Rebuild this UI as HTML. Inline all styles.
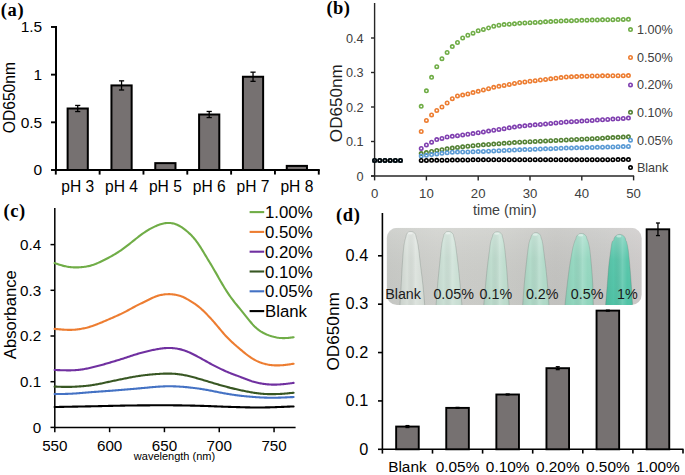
<!DOCTYPE html>
<html><head><meta charset="utf-8"><style>
html,body{margin:0;padding:0;background:#fff;}
body{width:685px;height:475px;overflow:hidden;font-family:"Liberation Sans", sans-serif;}
svg{display:block;}
</style></head><body>
<svg width="685" height="475" viewBox="0 0 685 475">
<rect width="685" height="475" fill="#fff"/>
<text x="0.8" y="15.6" font-size="18.5" text-anchor="start" fill="#000" font-family="'Liberation Serif', serif" font-weight="bold" letter-spacing="0.6">(a)</text>
<line x1="56" y1="26.08" x2="56" y2="170.9" stroke="#000" stroke-width="2" />
<line x1="51" y1="170" x2="56" y2="170" stroke="#000" stroke-width="1.9" />
<text x="42.2" y="175.3" font-size="15.5" text-anchor="end" fill="#000" font-family="'Liberation Sans', sans-serif" font-weight="normal" >0</text>
<line x1="51" y1="122.33" x2="56" y2="122.33" stroke="#000" stroke-width="1.9" />
<text x="42.2" y="127.62" font-size="15.5" text-anchor="end" fill="#000" font-family="'Liberation Sans', sans-serif" font-weight="normal" >0.5</text>
<line x1="51" y1="74.65" x2="56" y2="74.65" stroke="#000" stroke-width="1.9" />
<text x="42.2" y="79.95" font-size="15.5" text-anchor="end" fill="#000" font-family="'Liberation Sans', sans-serif" font-weight="normal" >1</text>
<line x1="51" y1="26.98" x2="56" y2="26.98" stroke="#000" stroke-width="1.9" />
<text x="42.2" y="32.28" font-size="15.5" text-anchor="end" fill="#000" font-family="'Liberation Sans', sans-serif" font-weight="normal" >1.5</text>
<line x1="56" y1="170" x2="319.78" y2="170" stroke="#000" stroke-width="2" />
<line x1="55.8" y1="170" x2="55.8" y2="174.6" stroke="#000" stroke-width="1.9" />
<line x1="99.63" y1="170" x2="99.63" y2="174.6" stroke="#000" stroke-width="1.9" />
<line x1="143.46" y1="170" x2="143.46" y2="174.6" stroke="#000" stroke-width="1.9" />
<line x1="187.29" y1="170" x2="187.29" y2="174.6" stroke="#000" stroke-width="1.9" />
<line x1="231.12" y1="170" x2="231.12" y2="174.6" stroke="#000" stroke-width="1.9" />
<line x1="274.95" y1="170" x2="274.95" y2="174.6" stroke="#000" stroke-width="1.9" />
<line x1="318.78" y1="170" x2="318.78" y2="174.6" stroke="#000" stroke-width="1.9" />
<rect x="67.62" y="108.5" width="20.2" height="61.5" fill="#767171" stroke="#000" stroke-width="2"/>
<line x1="77.72" y1="105.45" x2="77.72" y2="111.55" stroke="#000" stroke-width="1.3" />
<line x1="75.12" y1="105.45" x2="80.31" y2="105.45" stroke="#000" stroke-width="1.3" />
<line x1="75.12" y1="111.55" x2="80.31" y2="111.55" stroke="#000" stroke-width="1.3" />
<text x="77.72" y="192.4" font-size="15.6" text-anchor="middle" fill="#000" font-family="'Liberation Sans', sans-serif" font-weight="normal" >pH 3</text>
<rect x="111.45" y="85.42" width="20.2" height="84.58" fill="#767171" stroke="#000" stroke-width="2"/>
<line x1="121.55" y1="80.85" x2="121.55" y2="90" stroke="#000" stroke-width="1.3" />
<line x1="118.95" y1="80.85" x2="124.14" y2="80.85" stroke="#000" stroke-width="1.3" />
<line x1="118.95" y1="90" x2="124.14" y2="90" stroke="#000" stroke-width="1.3" />
<text x="121.55" y="192.4" font-size="15.6" text-anchor="middle" fill="#000" font-family="'Liberation Sans', sans-serif" font-weight="normal" >pH 4</text>
<rect x="155.28" y="163.13" width="20.2" height="6.87" fill="#767171" stroke="#000" stroke-width="2"/>
<text x="165.38" y="192.4" font-size="15.6" text-anchor="middle" fill="#000" font-family="'Liberation Sans', sans-serif" font-weight="normal" >pH 5</text>
<rect x="199.1" y="114.51" width="20.2" height="55.49" fill="#767171" stroke="#000" stroke-width="2"/>
<line x1="209.2" y1="111.46" x2="209.2" y2="117.56" stroke="#000" stroke-width="1.3" />
<line x1="206.6" y1="111.46" x2="211.8" y2="111.46" stroke="#000" stroke-width="1.3" />
<line x1="206.6" y1="117.56" x2="211.8" y2="117.56" stroke="#000" stroke-width="1.3" />
<text x="209.2" y="192.4" font-size="15.6" text-anchor="middle" fill="#000" font-family="'Liberation Sans', sans-serif" font-weight="normal" >pH 6</text>
<rect x="242.93" y="76.75" width="20.2" height="93.25" fill="#767171" stroke="#000" stroke-width="2"/>
<line x1="253.03" y1="72.17" x2="253.03" y2="81.32" stroke="#000" stroke-width="1.3" />
<line x1="250.43" y1="72.17" x2="255.63" y2="72.17" stroke="#000" stroke-width="1.3" />
<line x1="250.43" y1="81.32" x2="255.63" y2="81.32" stroke="#000" stroke-width="1.3" />
<text x="253.03" y="192.4" font-size="15.6" text-anchor="middle" fill="#000" font-family="'Liberation Sans', sans-serif" font-weight="normal" >pH 7</text>
<rect x="286.76" y="165.9" width="20.2" height="4.1" fill="#767171" stroke="#000" stroke-width="2"/>
<text x="296.87" y="192.4" font-size="15.6" text-anchor="middle" fill="#000" font-family="'Liberation Sans', sans-serif" font-weight="normal" >pH 8</text>
<text x="0" y="0" font-size="15.6" text-anchor="middle" fill="#000" font-family="'Liberation Sans', sans-serif" font-weight="normal" transform="translate(14.8,97.6) rotate(-90)">OD650nm</text>
<text x="326.4" y="14.4" font-size="18.5" text-anchor="start" fill="#000" font-family="'Liberation Serif', serif" font-weight="bold" letter-spacing="0.5">(b)</text>
<line x1="374.6" y1="3" x2="374.6" y2="176" stroke="#262626" stroke-width="1.4" />
<line x1="371" y1="176" x2="374.6" y2="176" stroke="#262626" stroke-width="1.4" />
<text x="363.6" y="180.5" font-size="12.7" text-anchor="end" fill="#404040" font-family="'Liberation Sans', sans-serif" font-weight="normal" >0</text>
<line x1="371" y1="141.5" x2="374.6" y2="141.5" stroke="#262626" stroke-width="1.4" />
<text x="363.6" y="146" font-size="12.7" text-anchor="end" fill="#404040" font-family="'Liberation Sans', sans-serif" font-weight="normal" >0.1</text>
<line x1="371" y1="107" x2="374.6" y2="107" stroke="#262626" stroke-width="1.4" />
<text x="363.6" y="111.5" font-size="12.7" text-anchor="end" fill="#404040" font-family="'Liberation Sans', sans-serif" font-weight="normal" >0.2</text>
<line x1="371" y1="72.5" x2="374.6" y2="72.5" stroke="#262626" stroke-width="1.4" />
<text x="363.6" y="77" font-size="12.7" text-anchor="end" fill="#404040" font-family="'Liberation Sans', sans-serif" font-weight="normal" >0.3</text>
<line x1="371" y1="38" x2="374.6" y2="38" stroke="#262626" stroke-width="1.4" />
<text x="363.6" y="42.5" font-size="12.7" text-anchor="end" fill="#404040" font-family="'Liberation Sans', sans-serif" font-weight="normal" >0.4</text>
<line x1="371" y1="176" x2="634.1" y2="176" stroke="#262626" stroke-width="1.4" />
<line x1="374.6" y1="176" x2="374.6" y2="180.4" stroke="#262626" stroke-width="1.4" />
<text x="374.6" y="198.2" font-size="13.2" text-anchor="middle" fill="#404040" font-family="'Liberation Sans', sans-serif" font-weight="normal" >0</text>
<line x1="426.4" y1="176" x2="426.4" y2="180.4" stroke="#262626" stroke-width="1.4" />
<text x="426.4" y="198.2" font-size="13.2" text-anchor="middle" fill="#404040" font-family="'Liberation Sans', sans-serif" font-weight="normal" >10</text>
<line x1="478.2" y1="176" x2="478.2" y2="180.4" stroke="#262626" stroke-width="1.4" />
<text x="478.2" y="198.2" font-size="13.2" text-anchor="middle" fill="#404040" font-family="'Liberation Sans', sans-serif" font-weight="normal" >20</text>
<line x1="530" y1="176" x2="530" y2="180.4" stroke="#262626" stroke-width="1.4" />
<text x="530" y="198.2" font-size="13.2" text-anchor="middle" fill="#404040" font-family="'Liberation Sans', sans-serif" font-weight="normal" >30</text>
<line x1="581.8" y1="176" x2="581.8" y2="180.4" stroke="#262626" stroke-width="1.4" />
<text x="581.8" y="198.2" font-size="13.2" text-anchor="middle" fill="#404040" font-family="'Liberation Sans', sans-serif" font-weight="normal" >40</text>
<line x1="633.6" y1="176" x2="633.6" y2="180.4" stroke="#262626" stroke-width="1.4" />
<text x="633.6" y="198.2" font-size="13.2" text-anchor="middle" fill="#404040" font-family="'Liberation Sans', sans-serif" font-weight="normal" >50</text>
<text x="504.8" y="214.9" font-size="14.3" text-anchor="middle" fill="#404040" font-family="'Liberation Sans', sans-serif" font-weight="normal" >time (min)</text>
<text x="0" y="0" font-size="17.1" text-anchor="middle" fill="#1e1e1e" font-family="'Liberation Sans', sans-serif" font-weight="normal" transform="translate(341.9,103.2) rotate(-90)">OD650nm</text>
<circle cx="374.6" cy="160.47" r="1.7" fill="none" stroke="#70AD47" stroke-width="1.6"/>
<circle cx="379.78" cy="160.47" r="1.7" fill="none" stroke="#70AD47" stroke-width="1.6"/>
<circle cx="384.96" cy="160.47" r="1.7" fill="none" stroke="#70AD47" stroke-width="1.6"/>
<circle cx="390.14" cy="160.47" r="1.7" fill="none" stroke="#70AD47" stroke-width="1.6"/>
<circle cx="395.32" cy="160.47" r="1.7" fill="none" stroke="#70AD47" stroke-width="1.6"/>
<circle cx="400.5" cy="160.47" r="1.7" fill="none" stroke="#70AD47" stroke-width="1.6"/>
<circle cx="421.22" cy="106.31" r="1.7" fill="none" stroke="#70AD47" stroke-width="1.6"/>
<circle cx="426.4" cy="90.78" r="1.7" fill="none" stroke="#70AD47" stroke-width="1.6"/>
<circle cx="431.58" cy="77.33" r="1.7" fill="none" stroke="#70AD47" stroke-width="1.6"/>
<circle cx="436.76" cy="66.64" r="1.7" fill="none" stroke="#70AD47" stroke-width="1.6"/>
<circle cx="441.94" cy="58.7" r="1.7" fill="none" stroke="#70AD47" stroke-width="1.6"/>
<circle cx="447.12" cy="52.49" r="1.7" fill="none" stroke="#70AD47" stroke-width="1.6"/>
<circle cx="452.3" cy="46.62" r="1.7" fill="none" stroke="#70AD47" stroke-width="1.6"/>
<circle cx="457.48" cy="42.48" r="1.7" fill="none" stroke="#70AD47" stroke-width="1.6"/>
<circle cx="462.66" cy="38" r="1.7" fill="none" stroke="#70AD47" stroke-width="1.6"/>
<circle cx="467.84" cy="35.24" r="1.7" fill="none" stroke="#70AD47" stroke-width="1.6"/>
<circle cx="473.02" cy="33.17" r="1.7" fill="none" stroke="#70AD47" stroke-width="1.6"/>
<circle cx="478.2" cy="30.75" r="1.7" fill="none" stroke="#70AD47" stroke-width="1.6"/>
<circle cx="483.38" cy="29.38" r="1.7" fill="none" stroke="#70AD47" stroke-width="1.6"/>
<circle cx="488.56" cy="28" r="1.7" fill="none" stroke="#70AD47" stroke-width="1.6"/>
<circle cx="493.74" cy="26.27" r="1.7" fill="none" stroke="#70AD47" stroke-width="1.6"/>
<circle cx="498.92" cy="25.24" r="1.7" fill="none" stroke="#70AD47" stroke-width="1.6"/>
<circle cx="504.1" cy="24.54" r="1.7" fill="none" stroke="#70AD47" stroke-width="1.6"/>
<circle cx="509.28" cy="24.2" r="1.7" fill="none" stroke="#70AD47" stroke-width="1.6"/>
<circle cx="514.46" cy="23.85" r="1.7" fill="none" stroke="#70AD47" stroke-width="1.6"/>
<circle cx="519.64" cy="23.16" r="1.7" fill="none" stroke="#70AD47" stroke-width="1.6"/>
<circle cx="524.82" cy="22.91" r="1.7" fill="none" stroke="#70AD47" stroke-width="1.6"/>
<circle cx="530" cy="22.65" r="1.7" fill="none" stroke="#70AD47" stroke-width="1.6"/>
<circle cx="535.18" cy="22.39" r="1.7" fill="none" stroke="#70AD47" stroke-width="1.6"/>
<circle cx="540.36" cy="22.13" r="1.7" fill="none" stroke="#70AD47" stroke-width="1.6"/>
<circle cx="545.54" cy="21.83" r="1.7" fill="none" stroke="#70AD47" stroke-width="1.6"/>
<circle cx="550.72" cy="21.53" r="1.7" fill="none" stroke="#70AD47" stroke-width="1.6"/>
<circle cx="555.9" cy="21.22" r="1.7" fill="none" stroke="#70AD47" stroke-width="1.6"/>
<circle cx="561.08" cy="20.92" r="1.7" fill="none" stroke="#70AD47" stroke-width="1.6"/>
<circle cx="566.26" cy="20.78" r="1.7" fill="none" stroke="#70AD47" stroke-width="1.6"/>
<circle cx="571.44" cy="20.63" r="1.7" fill="none" stroke="#70AD47" stroke-width="1.6"/>
<circle cx="576.62" cy="20.49" r="1.7" fill="none" stroke="#70AD47" stroke-width="1.6"/>
<circle cx="581.8" cy="20.35" r="1.7" fill="none" stroke="#70AD47" stroke-width="1.6"/>
<circle cx="586.98" cy="20.2" r="1.7" fill="none" stroke="#70AD47" stroke-width="1.6"/>
<circle cx="592.16" cy="20.06" r="1.7" fill="none" stroke="#70AD47" stroke-width="1.6"/>
<circle cx="597.34" cy="19.96" r="1.7" fill="none" stroke="#70AD47" stroke-width="1.6"/>
<circle cx="602.52" cy="19.86" r="1.7" fill="none" stroke="#70AD47" stroke-width="1.6"/>
<circle cx="607.7" cy="19.76" r="1.7" fill="none" stroke="#70AD47" stroke-width="1.6"/>
<circle cx="612.88" cy="19.67" r="1.7" fill="none" stroke="#70AD47" stroke-width="1.6"/>
<circle cx="618.06" cy="19.57" r="1.7" fill="none" stroke="#70AD47" stroke-width="1.6"/>
<circle cx="623.24" cy="19.47" r="1.7" fill="none" stroke="#70AD47" stroke-width="1.6"/>
<circle cx="628.42" cy="19.37" r="1.7" fill="none" stroke="#70AD47" stroke-width="1.6"/>
<circle cx="630.5" cy="29.6" r="1.7" fill="none" stroke="#70AD47" stroke-width="1.6"/>
<text x="636.9" y="34.1" font-size="12.6" text-anchor="start" fill="#404040" font-family="'Liberation Sans', sans-serif" font-weight="normal" >1.00%</text>
<circle cx="374.6" cy="160.47" r="1.7" fill="none" stroke="#ED7D31" stroke-width="1.6"/>
<circle cx="379.78" cy="160.47" r="1.7" fill="none" stroke="#ED7D31" stroke-width="1.6"/>
<circle cx="384.96" cy="160.47" r="1.7" fill="none" stroke="#ED7D31" stroke-width="1.6"/>
<circle cx="390.14" cy="160.47" r="1.7" fill="none" stroke="#ED7D31" stroke-width="1.6"/>
<circle cx="395.32" cy="160.47" r="1.7" fill="none" stroke="#ED7D31" stroke-width="1.6"/>
<circle cx="400.5" cy="160.47" r="1.7" fill="none" stroke="#ED7D31" stroke-width="1.6"/>
<circle cx="421.22" cy="131.5" r="1.7" fill="none" stroke="#ED7D31" stroke-width="1.6"/>
<circle cx="426.4" cy="120.45" r="1.7" fill="none" stroke="#ED7D31" stroke-width="1.6"/>
<circle cx="431.58" cy="114.94" r="1.7" fill="none" stroke="#ED7D31" stroke-width="1.6"/>
<circle cx="436.76" cy="110.45" r="1.7" fill="none" stroke="#ED7D31" stroke-width="1.6"/>
<circle cx="441.94" cy="107" r="1.7" fill="none" stroke="#ED7D31" stroke-width="1.6"/>
<circle cx="447.12" cy="103" r="1.7" fill="none" stroke="#ED7D31" stroke-width="1.6"/>
<circle cx="452.3" cy="98.72" r="1.7" fill="none" stroke="#ED7D31" stroke-width="1.6"/>
<circle cx="457.48" cy="95.96" r="1.7" fill="none" stroke="#ED7D31" stroke-width="1.6"/>
<circle cx="462.66" cy="95.1" r="1.7" fill="none" stroke="#ED7D31" stroke-width="1.6"/>
<circle cx="467.84" cy="93.89" r="1.7" fill="none" stroke="#ED7D31" stroke-width="1.6"/>
<circle cx="473.02" cy="92.61" r="1.7" fill="none" stroke="#ED7D31" stroke-width="1.6"/>
<circle cx="478.2" cy="91.29" r="1.7" fill="none" stroke="#ED7D31" stroke-width="1.6"/>
<circle cx="483.38" cy="89.97" r="1.7" fill="none" stroke="#ED7D31" stroke-width="1.6"/>
<circle cx="488.56" cy="88.65" r="1.7" fill="none" stroke="#ED7D31" stroke-width="1.6"/>
<circle cx="493.74" cy="87.33" r="1.7" fill="none" stroke="#ED7D31" stroke-width="1.6"/>
<circle cx="498.92" cy="86.37" r="1.7" fill="none" stroke="#ED7D31" stroke-width="1.6"/>
<circle cx="504.1" cy="85.4" r="1.7" fill="none" stroke="#ED7D31" stroke-width="1.6"/>
<circle cx="509.28" cy="84.44" r="1.7" fill="none" stroke="#ED7D31" stroke-width="1.6"/>
<circle cx="514.46" cy="83.47" r="1.7" fill="none" stroke="#ED7D31" stroke-width="1.6"/>
<circle cx="519.64" cy="82.5" r="1.7" fill="none" stroke="#ED7D31" stroke-width="1.6"/>
<circle cx="524.82" cy="81.88" r="1.7" fill="none" stroke="#ED7D31" stroke-width="1.6"/>
<circle cx="530" cy="81.26" r="1.7" fill="none" stroke="#ED7D31" stroke-width="1.6"/>
<circle cx="535.18" cy="80.64" r="1.7" fill="none" stroke="#ED7D31" stroke-width="1.6"/>
<circle cx="540.36" cy="80.02" r="1.7" fill="none" stroke="#ED7D31" stroke-width="1.6"/>
<circle cx="545.54" cy="79.4" r="1.7" fill="none" stroke="#ED7D31" stroke-width="1.6"/>
<circle cx="550.72" cy="78.8" r="1.7" fill="none" stroke="#ED7D31" stroke-width="1.6"/>
<circle cx="555.9" cy="78.19" r="1.7" fill="none" stroke="#ED7D31" stroke-width="1.6"/>
<circle cx="561.08" cy="77.59" r="1.7" fill="none" stroke="#ED7D31" stroke-width="1.6"/>
<circle cx="566.26" cy="76.99" r="1.7" fill="none" stroke="#ED7D31" stroke-width="1.6"/>
<circle cx="571.44" cy="76.78" r="1.7" fill="none" stroke="#ED7D31" stroke-width="1.6"/>
<circle cx="576.62" cy="76.57" r="1.7" fill="none" stroke="#ED7D31" stroke-width="1.6"/>
<circle cx="581.8" cy="76.36" r="1.7" fill="none" stroke="#ED7D31" stroke-width="1.6"/>
<circle cx="586.98" cy="76.16" r="1.7" fill="none" stroke="#ED7D31" stroke-width="1.6"/>
<circle cx="592.16" cy="75.95" r="1.7" fill="none" stroke="#ED7D31" stroke-width="1.6"/>
<circle cx="597.34" cy="75.9" r="1.7" fill="none" stroke="#ED7D31" stroke-width="1.6"/>
<circle cx="602.52" cy="75.85" r="1.7" fill="none" stroke="#ED7D31" stroke-width="1.6"/>
<circle cx="607.7" cy="75.8" r="1.7" fill="none" stroke="#ED7D31" stroke-width="1.6"/>
<circle cx="612.88" cy="75.75" r="1.7" fill="none" stroke="#ED7D31" stroke-width="1.6"/>
<circle cx="618.06" cy="75.7" r="1.7" fill="none" stroke="#ED7D31" stroke-width="1.6"/>
<circle cx="623.24" cy="75.65" r="1.7" fill="none" stroke="#ED7D31" stroke-width="1.6"/>
<circle cx="628.42" cy="75.61" r="1.7" fill="none" stroke="#ED7D31" stroke-width="1.6"/>
<circle cx="630.5" cy="57.5" r="1.7" fill="none" stroke="#ED7D31" stroke-width="1.6"/>
<text x="636.9" y="62" font-size="12.6" text-anchor="start" fill="#404040" font-family="'Liberation Sans', sans-serif" font-weight="normal" >0.50%</text>
<circle cx="374.6" cy="160.47" r="1.7" fill="none" stroke="#8040B0" stroke-width="1.6"/>
<circle cx="379.78" cy="160.47" r="1.7" fill="none" stroke="#8040B0" stroke-width="1.6"/>
<circle cx="384.96" cy="160.47" r="1.7" fill="none" stroke="#8040B0" stroke-width="1.6"/>
<circle cx="390.14" cy="160.47" r="1.7" fill="none" stroke="#8040B0" stroke-width="1.6"/>
<circle cx="395.32" cy="160.47" r="1.7" fill="none" stroke="#8040B0" stroke-width="1.6"/>
<circle cx="400.5" cy="160.47" r="1.7" fill="none" stroke="#8040B0" stroke-width="1.6"/>
<circle cx="421.22" cy="148.4" r="1.7" fill="none" stroke="#8040B0" stroke-width="1.6"/>
<circle cx="426.4" cy="144.95" r="1.7" fill="none" stroke="#8040B0" stroke-width="1.6"/>
<circle cx="431.58" cy="142.19" r="1.7" fill="none" stroke="#8040B0" stroke-width="1.6"/>
<circle cx="436.76" cy="139.6" r="1.7" fill="none" stroke="#8040B0" stroke-width="1.6"/>
<circle cx="441.94" cy="138.4" r="1.7" fill="none" stroke="#8040B0" stroke-width="1.6"/>
<circle cx="447.12" cy="137.01" r="1.7" fill="none" stroke="#8040B0" stroke-width="1.6"/>
<circle cx="452.3" cy="136.32" r="1.7" fill="none" stroke="#8040B0" stroke-width="1.6"/>
<circle cx="457.48" cy="135.63" r="1.7" fill="none" stroke="#8040B0" stroke-width="1.6"/>
<circle cx="462.66" cy="134.94" r="1.7" fill="none" stroke="#8040B0" stroke-width="1.6"/>
<circle cx="467.84" cy="134.25" r="1.7" fill="none" stroke="#8040B0" stroke-width="1.6"/>
<circle cx="473.02" cy="133.56" r="1.7" fill="none" stroke="#8040B0" stroke-width="1.6"/>
<circle cx="478.2" cy="132.74" r="1.7" fill="none" stroke="#8040B0" stroke-width="1.6"/>
<circle cx="483.38" cy="131.91" r="1.7" fill="none" stroke="#8040B0" stroke-width="1.6"/>
<circle cx="488.56" cy="131.08" r="1.7" fill="none" stroke="#8040B0" stroke-width="1.6"/>
<circle cx="493.74" cy="130.25" r="1.7" fill="none" stroke="#8040B0" stroke-width="1.6"/>
<circle cx="498.92" cy="129.43" r="1.7" fill="none" stroke="#8040B0" stroke-width="1.6"/>
<circle cx="504.1" cy="128.65" r="1.7" fill="none" stroke="#8040B0" stroke-width="1.6"/>
<circle cx="509.28" cy="127.87" r="1.7" fill="none" stroke="#8040B0" stroke-width="1.6"/>
<circle cx="514.46" cy="127.1" r="1.7" fill="none" stroke="#8040B0" stroke-width="1.6"/>
<circle cx="519.64" cy="126.32" r="1.7" fill="none" stroke="#8040B0" stroke-width="1.6"/>
<circle cx="524.82" cy="125.84" r="1.7" fill="none" stroke="#8040B0" stroke-width="1.6"/>
<circle cx="530" cy="125.35" r="1.7" fill="none" stroke="#8040B0" stroke-width="1.6"/>
<circle cx="535.18" cy="124.87" r="1.7" fill="none" stroke="#8040B0" stroke-width="1.6"/>
<circle cx="540.36" cy="124.39" r="1.7" fill="none" stroke="#8040B0" stroke-width="1.6"/>
<circle cx="545.54" cy="123.91" r="1.7" fill="none" stroke="#8040B0" stroke-width="1.6"/>
<circle cx="550.72" cy="123.43" r="1.7" fill="none" stroke="#8040B0" stroke-width="1.6"/>
<circle cx="555.9" cy="122.96" r="1.7" fill="none" stroke="#8040B0" stroke-width="1.6"/>
<circle cx="561.08" cy="122.48" r="1.7" fill="none" stroke="#8040B0" stroke-width="1.6"/>
<circle cx="566.26" cy="122.01" r="1.7" fill="none" stroke="#8040B0" stroke-width="1.6"/>
<circle cx="571.44" cy="121.69" r="1.7" fill="none" stroke="#8040B0" stroke-width="1.6"/>
<circle cx="576.62" cy="121.38" r="1.7" fill="none" stroke="#8040B0" stroke-width="1.6"/>
<circle cx="581.8" cy="121.06" r="1.7" fill="none" stroke="#8040B0" stroke-width="1.6"/>
<circle cx="586.98" cy="120.74" r="1.7" fill="none" stroke="#8040B0" stroke-width="1.6"/>
<circle cx="592.16" cy="120.43" r="1.7" fill="none" stroke="#8040B0" stroke-width="1.6"/>
<circle cx="597.34" cy="120.11" r="1.7" fill="none" stroke="#8040B0" stroke-width="1.6"/>
<circle cx="602.52" cy="119.77" r="1.7" fill="none" stroke="#8040B0" stroke-width="1.6"/>
<circle cx="607.7" cy="119.42" r="1.7" fill="none" stroke="#8040B0" stroke-width="1.6"/>
<circle cx="612.88" cy="119.07" r="1.7" fill="none" stroke="#8040B0" stroke-width="1.6"/>
<circle cx="618.06" cy="118.73" r="1.7" fill="none" stroke="#8040B0" stroke-width="1.6"/>
<circle cx="623.24" cy="118.38" r="1.7" fill="none" stroke="#8040B0" stroke-width="1.6"/>
<circle cx="628.42" cy="118.04" r="1.7" fill="none" stroke="#8040B0" stroke-width="1.6"/>
<circle cx="630.5" cy="84.9" r="1.7" fill="none" stroke="#8040B0" stroke-width="1.6"/>
<text x="636.9" y="89.4" font-size="12.6" text-anchor="start" fill="#404040" font-family="'Liberation Sans', sans-serif" font-weight="normal" >0.20%</text>
<circle cx="374.6" cy="160.47" r="1.7" fill="none" stroke="#548235" stroke-width="1.6"/>
<circle cx="379.78" cy="160.47" r="1.7" fill="none" stroke="#548235" stroke-width="1.6"/>
<circle cx="384.96" cy="160.47" r="1.7" fill="none" stroke="#548235" stroke-width="1.6"/>
<circle cx="390.14" cy="160.47" r="1.7" fill="none" stroke="#548235" stroke-width="1.6"/>
<circle cx="395.32" cy="160.47" r="1.7" fill="none" stroke="#548235" stroke-width="1.6"/>
<circle cx="400.5" cy="160.47" r="1.7" fill="none" stroke="#548235" stroke-width="1.6"/>
<circle cx="421.22" cy="153.57" r="1.7" fill="none" stroke="#548235" stroke-width="1.6"/>
<circle cx="426.4" cy="152.54" r="1.7" fill="none" stroke="#548235" stroke-width="1.6"/>
<circle cx="431.58" cy="151.5" r="1.7" fill="none" stroke="#548235" stroke-width="1.6"/>
<circle cx="436.76" cy="150.47" r="1.7" fill="none" stroke="#548235" stroke-width="1.6"/>
<circle cx="441.94" cy="149.66" r="1.7" fill="none" stroke="#548235" stroke-width="1.6"/>
<circle cx="447.12" cy="148.86" r="1.7" fill="none" stroke="#548235" stroke-width="1.6"/>
<circle cx="452.3" cy="148.06" r="1.7" fill="none" stroke="#548235" stroke-width="1.6"/>
<circle cx="457.48" cy="147.45" r="1.7" fill="none" stroke="#548235" stroke-width="1.6"/>
<circle cx="462.66" cy="146.85" r="1.7" fill="none" stroke="#548235" stroke-width="1.6"/>
<circle cx="467.84" cy="146.24" r="1.7" fill="none" stroke="#548235" stroke-width="1.6"/>
<circle cx="473.02" cy="145.64" r="1.7" fill="none" stroke="#548235" stroke-width="1.6"/>
<circle cx="478.2" cy="145.26" r="1.7" fill="none" stroke="#548235" stroke-width="1.6"/>
<circle cx="483.38" cy="144.87" r="1.7" fill="none" stroke="#548235" stroke-width="1.6"/>
<circle cx="488.56" cy="144.49" r="1.7" fill="none" stroke="#548235" stroke-width="1.6"/>
<circle cx="493.74" cy="144.11" r="1.7" fill="none" stroke="#548235" stroke-width="1.6"/>
<circle cx="498.92" cy="143.72" r="1.7" fill="none" stroke="#548235" stroke-width="1.6"/>
<circle cx="504.1" cy="143.34" r="1.7" fill="none" stroke="#548235" stroke-width="1.6"/>
<circle cx="509.28" cy="142.96" r="1.7" fill="none" stroke="#548235" stroke-width="1.6"/>
<circle cx="514.46" cy="142.57" r="1.7" fill="none" stroke="#548235" stroke-width="1.6"/>
<circle cx="519.64" cy="142.19" r="1.7" fill="none" stroke="#548235" stroke-width="1.6"/>
<circle cx="524.82" cy="141.94" r="1.7" fill="none" stroke="#548235" stroke-width="1.6"/>
<circle cx="530" cy="141.68" r="1.7" fill="none" stroke="#548235" stroke-width="1.6"/>
<circle cx="535.18" cy="141.43" r="1.7" fill="none" stroke="#548235" stroke-width="1.6"/>
<circle cx="540.36" cy="141.18" r="1.7" fill="none" stroke="#548235" stroke-width="1.6"/>
<circle cx="545.54" cy="140.93" r="1.7" fill="none" stroke="#548235" stroke-width="1.6"/>
<circle cx="550.72" cy="140.67" r="1.7" fill="none" stroke="#548235" stroke-width="1.6"/>
<circle cx="555.9" cy="140.42" r="1.7" fill="none" stroke="#548235" stroke-width="1.6"/>
<circle cx="561.08" cy="140.17" r="1.7" fill="none" stroke="#548235" stroke-width="1.6"/>
<circle cx="566.26" cy="139.91" r="1.7" fill="none" stroke="#548235" stroke-width="1.6"/>
<circle cx="571.44" cy="139.66" r="1.7" fill="none" stroke="#548235" stroke-width="1.6"/>
<circle cx="576.62" cy="139.41" r="1.7" fill="none" stroke="#548235" stroke-width="1.6"/>
<circle cx="581.8" cy="139.15" r="1.7" fill="none" stroke="#548235" stroke-width="1.6"/>
<circle cx="586.98" cy="138.9" r="1.7" fill="none" stroke="#548235" stroke-width="1.6"/>
<circle cx="592.16" cy="138.65" r="1.7" fill="none" stroke="#548235" stroke-width="1.6"/>
<circle cx="597.34" cy="138.4" r="1.7" fill="none" stroke="#548235" stroke-width="1.6"/>
<circle cx="602.52" cy="138.13" r="1.7" fill="none" stroke="#548235" stroke-width="1.6"/>
<circle cx="607.7" cy="137.87" r="1.7" fill="none" stroke="#548235" stroke-width="1.6"/>
<circle cx="612.88" cy="137.6" r="1.7" fill="none" stroke="#548235" stroke-width="1.6"/>
<circle cx="618.06" cy="137.34" r="1.7" fill="none" stroke="#548235" stroke-width="1.6"/>
<circle cx="623.24" cy="137.07" r="1.7" fill="none" stroke="#548235" stroke-width="1.6"/>
<circle cx="628.42" cy="136.81" r="1.7" fill="none" stroke="#548235" stroke-width="1.6"/>
<circle cx="630.5" cy="112.3" r="1.7" fill="none" stroke="#548235" stroke-width="1.6"/>
<text x="636.9" y="116.8" font-size="12.6" text-anchor="start" fill="#404040" font-family="'Liberation Sans', sans-serif" font-weight="normal" >0.10%</text>
<circle cx="374.6" cy="160.47" r="1.7" fill="none" stroke="#5B9BD5" stroke-width="1.6"/>
<circle cx="379.78" cy="160.47" r="1.7" fill="none" stroke="#5B9BD5" stroke-width="1.6"/>
<circle cx="384.96" cy="160.47" r="1.7" fill="none" stroke="#5B9BD5" stroke-width="1.6"/>
<circle cx="390.14" cy="160.47" r="1.7" fill="none" stroke="#5B9BD5" stroke-width="1.6"/>
<circle cx="395.32" cy="160.47" r="1.7" fill="none" stroke="#5B9BD5" stroke-width="1.6"/>
<circle cx="400.5" cy="160.47" r="1.7" fill="none" stroke="#5B9BD5" stroke-width="1.6"/>
<circle cx="421.22" cy="155.99" r="1.7" fill="none" stroke="#5B9BD5" stroke-width="1.6"/>
<circle cx="426.4" cy="155.3" r="1.7" fill="none" stroke="#5B9BD5" stroke-width="1.6"/>
<circle cx="431.58" cy="154.61" r="1.7" fill="none" stroke="#5B9BD5" stroke-width="1.6"/>
<circle cx="436.76" cy="153.92" r="1.7" fill="none" stroke="#5B9BD5" stroke-width="1.6"/>
<circle cx="441.94" cy="153.34" r="1.7" fill="none" stroke="#5B9BD5" stroke-width="1.6"/>
<circle cx="447.12" cy="152.77" r="1.7" fill="none" stroke="#5B9BD5" stroke-width="1.6"/>
<circle cx="452.3" cy="152.19" r="1.7" fill="none" stroke="#5B9BD5" stroke-width="1.6"/>
<circle cx="457.48" cy="152.11" r="1.7" fill="none" stroke="#5B9BD5" stroke-width="1.6"/>
<circle cx="462.66" cy="152.02" r="1.7" fill="none" stroke="#5B9BD5" stroke-width="1.6"/>
<circle cx="467.84" cy="151.94" r="1.7" fill="none" stroke="#5B9BD5" stroke-width="1.6"/>
<circle cx="473.02" cy="151.85" r="1.7" fill="none" stroke="#5B9BD5" stroke-width="1.6"/>
<circle cx="478.2" cy="151.62" r="1.7" fill="none" stroke="#5B9BD5" stroke-width="1.6"/>
<circle cx="483.38" cy="151.39" r="1.7" fill="none" stroke="#5B9BD5" stroke-width="1.6"/>
<circle cx="488.56" cy="151.16" r="1.7" fill="none" stroke="#5B9BD5" stroke-width="1.6"/>
<circle cx="493.74" cy="150.93" r="1.7" fill="none" stroke="#5B9BD5" stroke-width="1.6"/>
<circle cx="498.92" cy="150.7" r="1.7" fill="none" stroke="#5B9BD5" stroke-width="1.6"/>
<circle cx="504.1" cy="150.47" r="1.7" fill="none" stroke="#5B9BD5" stroke-width="1.6"/>
<circle cx="509.28" cy="150.24" r="1.7" fill="none" stroke="#5B9BD5" stroke-width="1.6"/>
<circle cx="514.46" cy="150.01" r="1.7" fill="none" stroke="#5B9BD5" stroke-width="1.6"/>
<circle cx="519.64" cy="149.78" r="1.7" fill="none" stroke="#5B9BD5" stroke-width="1.6"/>
<circle cx="524.82" cy="149.59" r="1.7" fill="none" stroke="#5B9BD5" stroke-width="1.6"/>
<circle cx="530" cy="149.4" r="1.7" fill="none" stroke="#5B9BD5" stroke-width="1.6"/>
<circle cx="535.18" cy="149.21" r="1.7" fill="none" stroke="#5B9BD5" stroke-width="1.6"/>
<circle cx="540.36" cy="149.01" r="1.7" fill="none" stroke="#5B9BD5" stroke-width="1.6"/>
<circle cx="545.54" cy="148.82" r="1.7" fill="none" stroke="#5B9BD5" stroke-width="1.6"/>
<circle cx="550.72" cy="148.63" r="1.7" fill="none" stroke="#5B9BD5" stroke-width="1.6"/>
<circle cx="555.9" cy="148.44" r="1.7" fill="none" stroke="#5B9BD5" stroke-width="1.6"/>
<circle cx="561.08" cy="148.25" r="1.7" fill="none" stroke="#5B9BD5" stroke-width="1.6"/>
<circle cx="566.26" cy="148.06" r="1.7" fill="none" stroke="#5B9BD5" stroke-width="1.6"/>
<circle cx="571.44" cy="147.94" r="1.7" fill="none" stroke="#5B9BD5" stroke-width="1.6"/>
<circle cx="576.62" cy="147.82" r="1.7" fill="none" stroke="#5B9BD5" stroke-width="1.6"/>
<circle cx="581.8" cy="147.71" r="1.7" fill="none" stroke="#5B9BD5" stroke-width="1.6"/>
<circle cx="586.98" cy="147.59" r="1.7" fill="none" stroke="#5B9BD5" stroke-width="1.6"/>
<circle cx="592.16" cy="147.48" r="1.7" fill="none" stroke="#5B9BD5" stroke-width="1.6"/>
<circle cx="597.34" cy="147.37" r="1.7" fill="none" stroke="#5B9BD5" stroke-width="1.6"/>
<circle cx="602.52" cy="147.2" r="1.7" fill="none" stroke="#5B9BD5" stroke-width="1.6"/>
<circle cx="607.7" cy="147.04" r="1.7" fill="none" stroke="#5B9BD5" stroke-width="1.6"/>
<circle cx="612.88" cy="146.88" r="1.7" fill="none" stroke="#5B9BD5" stroke-width="1.6"/>
<circle cx="618.06" cy="146.72" r="1.7" fill="none" stroke="#5B9BD5" stroke-width="1.6"/>
<circle cx="623.24" cy="146.56" r="1.7" fill="none" stroke="#5B9BD5" stroke-width="1.6"/>
<circle cx="628.42" cy="146.4" r="1.7" fill="none" stroke="#5B9BD5" stroke-width="1.6"/>
<circle cx="630.5" cy="140.2" r="1.7" fill="none" stroke="#5B9BD5" stroke-width="1.6"/>
<text x="636.9" y="144.7" font-size="12.6" text-anchor="start" fill="#404040" font-family="'Liberation Sans', sans-serif" font-weight="normal" >0.05%</text>
<circle cx="374.6" cy="160.47" r="1.7" fill="none" stroke="#000000" stroke-width="1.6"/>
<circle cx="379.78" cy="160.47" r="1.7" fill="none" stroke="#000000" stroke-width="1.6"/>
<circle cx="384.96" cy="160.47" r="1.7" fill="none" stroke="#000000" stroke-width="1.6"/>
<circle cx="390.14" cy="160.47" r="1.7" fill="none" stroke="#000000" stroke-width="1.6"/>
<circle cx="395.32" cy="160.47" r="1.7" fill="none" stroke="#000000" stroke-width="1.6"/>
<circle cx="400.5" cy="160.47" r="1.7" fill="none" stroke="#000000" stroke-width="1.6"/>
<circle cx="421.22" cy="160.47" r="1.7" fill="none" stroke="#000000" stroke-width="1.6"/>
<circle cx="426.4" cy="160.41" r="1.7" fill="none" stroke="#000000" stroke-width="1.6"/>
<circle cx="431.58" cy="160.35" r="1.7" fill="none" stroke="#000000" stroke-width="1.6"/>
<circle cx="436.76" cy="160.29" r="1.7" fill="none" stroke="#000000" stroke-width="1.6"/>
<circle cx="441.94" cy="160.22" r="1.7" fill="none" stroke="#000000" stroke-width="1.6"/>
<circle cx="447.12" cy="160.16" r="1.7" fill="none" stroke="#000000" stroke-width="1.6"/>
<circle cx="452.3" cy="160.1" r="1.7" fill="none" stroke="#000000" stroke-width="1.6"/>
<circle cx="457.48" cy="160.04" r="1.7" fill="none" stroke="#000000" stroke-width="1.6"/>
<circle cx="462.66" cy="159.97" r="1.7" fill="none" stroke="#000000" stroke-width="1.6"/>
<circle cx="467.84" cy="159.91" r="1.7" fill="none" stroke="#000000" stroke-width="1.6"/>
<circle cx="473.02" cy="159.85" r="1.7" fill="none" stroke="#000000" stroke-width="1.6"/>
<circle cx="478.2" cy="159.78" r="1.7" fill="none" stroke="#000000" stroke-width="1.6"/>
<circle cx="483.38" cy="159.78" r="1.7" fill="none" stroke="#000000" stroke-width="1.6"/>
<circle cx="488.56" cy="159.77" r="1.7" fill="none" stroke="#000000" stroke-width="1.6"/>
<circle cx="493.74" cy="159.77" r="1.7" fill="none" stroke="#000000" stroke-width="1.6"/>
<circle cx="498.92" cy="159.76" r="1.7" fill="none" stroke="#000000" stroke-width="1.6"/>
<circle cx="504.1" cy="159.76" r="1.7" fill="none" stroke="#000000" stroke-width="1.6"/>
<circle cx="509.28" cy="159.75" r="1.7" fill="none" stroke="#000000" stroke-width="1.6"/>
<circle cx="514.46" cy="159.74" r="1.7" fill="none" stroke="#000000" stroke-width="1.6"/>
<circle cx="519.64" cy="159.74" r="1.7" fill="none" stroke="#000000" stroke-width="1.6"/>
<circle cx="524.82" cy="159.73" r="1.7" fill="none" stroke="#000000" stroke-width="1.6"/>
<circle cx="530" cy="159.73" r="1.7" fill="none" stroke="#000000" stroke-width="1.6"/>
<circle cx="535.18" cy="159.72" r="1.7" fill="none" stroke="#000000" stroke-width="1.6"/>
<circle cx="540.36" cy="159.71" r="1.7" fill="none" stroke="#000000" stroke-width="1.6"/>
<circle cx="545.54" cy="159.71" r="1.7" fill="none" stroke="#000000" stroke-width="1.6"/>
<circle cx="550.72" cy="159.7" r="1.7" fill="none" stroke="#000000" stroke-width="1.6"/>
<circle cx="555.9" cy="159.7" r="1.7" fill="none" stroke="#000000" stroke-width="1.6"/>
<circle cx="561.08" cy="159.69" r="1.7" fill="none" stroke="#000000" stroke-width="1.6"/>
<circle cx="566.26" cy="159.68" r="1.7" fill="none" stroke="#000000" stroke-width="1.6"/>
<circle cx="571.44" cy="159.68" r="1.7" fill="none" stroke="#000000" stroke-width="1.6"/>
<circle cx="576.62" cy="159.67" r="1.7" fill="none" stroke="#000000" stroke-width="1.6"/>
<circle cx="581.8" cy="159.67" r="1.7" fill="none" stroke="#000000" stroke-width="1.6"/>
<circle cx="586.98" cy="159.66" r="1.7" fill="none" stroke="#000000" stroke-width="1.6"/>
<circle cx="592.16" cy="159.65" r="1.7" fill="none" stroke="#000000" stroke-width="1.6"/>
<circle cx="597.34" cy="159.65" r="1.7" fill="none" stroke="#000000" stroke-width="1.6"/>
<circle cx="602.52" cy="159.64" r="1.7" fill="none" stroke="#000000" stroke-width="1.6"/>
<circle cx="607.7" cy="159.64" r="1.7" fill="none" stroke="#000000" stroke-width="1.6"/>
<circle cx="612.88" cy="159.63" r="1.7" fill="none" stroke="#000000" stroke-width="1.6"/>
<circle cx="618.06" cy="159.62" r="1.7" fill="none" stroke="#000000" stroke-width="1.6"/>
<circle cx="623.24" cy="159.62" r="1.7" fill="none" stroke="#000000" stroke-width="1.6"/>
<circle cx="628.42" cy="159.61" r="1.7" fill="none" stroke="#000000" stroke-width="1.6"/>
<circle cx="630.5" cy="167.6" r="1.7" fill="none" stroke="#000000" stroke-width="1.6"/>
<text x="636.9" y="172.1" font-size="12.6" text-anchor="start" fill="#404040" font-family="'Liberation Sans', sans-serif" font-weight="normal" >Blank</text>
<text x="3.4" y="216.6" font-size="18.5" text-anchor="start" fill="#000" font-family="'Liberation Serif', serif" font-weight="bold" letter-spacing="0.6">(c)</text>
<line x1="54.8" y1="208" x2="54.8" y2="427.4" stroke="#000" stroke-width="1.5" />
<line x1="50.5" y1="427.4" x2="54.8" y2="427.4" stroke="#000" stroke-width="1.5" />
<text x="41.2" y="432.8" font-size="15.2" text-anchor="end" fill="#000" font-family="'Liberation Sans', sans-serif" font-weight="normal" >0</text>
<line x1="50.5" y1="381.7" x2="54.8" y2="381.7" stroke="#000" stroke-width="1.5" />
<text x="41.2" y="387.1" font-size="15.2" text-anchor="end" fill="#000" font-family="'Liberation Sans', sans-serif" font-weight="normal" >0.1</text>
<line x1="50.5" y1="336" x2="54.8" y2="336" stroke="#000" stroke-width="1.5" />
<text x="41.2" y="341.4" font-size="15.2" text-anchor="end" fill="#000" font-family="'Liberation Sans', sans-serif" font-weight="normal" >0.2</text>
<line x1="50.5" y1="290.3" x2="54.8" y2="290.3" stroke="#000" stroke-width="1.5" />
<text x="41.2" y="295.7" font-size="15.2" text-anchor="end" fill="#000" font-family="'Liberation Sans', sans-serif" font-weight="normal" >0.3</text>
<line x1="50.5" y1="244.6" x2="54.8" y2="244.6" stroke="#000" stroke-width="1.5" />
<text x="41.2" y="250" font-size="15.2" text-anchor="end" fill="#000" font-family="'Liberation Sans', sans-serif" font-weight="normal" >0.4</text>
<line x1="54.8" y1="427.4" x2="295.6" y2="427.4" stroke="#000" stroke-width="1.5" />
<line x1="54.8" y1="427.4" x2="54.8" y2="432.2" stroke="#000" stroke-width="1.5" />
<text x="54.8" y="451.2" font-size="15.2" text-anchor="middle" fill="#000" font-family="'Liberation Sans', sans-serif" font-weight="normal" >550</text>
<line x1="109.62" y1="427.4" x2="109.62" y2="432.2" stroke="#000" stroke-width="1.5" />
<text x="109.62" y="451.2" font-size="15.2" text-anchor="middle" fill="#000" font-family="'Liberation Sans', sans-serif" font-weight="normal" >600</text>
<line x1="164.43" y1="427.4" x2="164.43" y2="432.2" stroke="#000" stroke-width="1.5" />
<text x="164.43" y="451.2" font-size="15.2" text-anchor="middle" fill="#000" font-family="'Liberation Sans', sans-serif" font-weight="normal" >650</text>
<line x1="219.25" y1="427.4" x2="219.25" y2="432.2" stroke="#000" stroke-width="1.5" />
<text x="219.25" y="451.2" font-size="15.2" text-anchor="middle" fill="#000" font-family="'Liberation Sans', sans-serif" font-weight="normal" >700</text>
<line x1="274.06" y1="427.4" x2="274.06" y2="432.2" stroke="#000" stroke-width="1.5" />
<text x="274.06" y="451.2" font-size="15.2" text-anchor="middle" fill="#000" font-family="'Liberation Sans', sans-serif" font-weight="normal" >750</text>
<text x="174.5" y="459.6" font-size="11" text-anchor="middle" fill="#000" font-family="'Liberation Sans', sans-serif" font-weight="normal" >wavelength (nm)</text>
<text x="0" y="0" font-size="16.7" text-anchor="middle" fill="#000" font-family="'Liberation Sans', sans-serif" font-weight="normal" transform="translate(15.8,314.7) rotate(-90)">Absorbance</text>
<path d="M54.6,263.1 L55.6,263.44 L56.6,263.79 L57.6,264.12 L58.6,264.45 L59.6,264.77 L60.6,265.07 L61.6,265.35 L62.6,265.62 L63.6,265.88 L64.6,266.11 L65.6,266.32 L66.6,266.52 L67.6,266.69 L68.6,266.85 L69.6,266.98 L70.6,267.1 L71.6,267.2 L72.6,267.28 L73.6,267.34 L74.6,267.38 L75.6,267.4 L76.6,267.4 L77.6,267.38 L78.6,267.35 L79.6,267.31 L80.6,267.24 L81.6,267.16 L82.6,267.07 L83.6,266.96 L84.6,266.83 L85.6,266.68 L86.6,266.51 L87.6,266.32 L88.6,266.11 L89.6,265.88 L90.6,265.62 L91.6,265.33 L92.6,265.02 L93.6,264.69 L94.6,264.32 L95.6,263.94 L96.6,263.53 L97.6,263.1 L98.6,262.65 L99.6,262.19 L100.6,261.71 L101.6,261.23 L102.6,260.74 L103.6,260.25 L104.6,259.75 L105.6,259.25 L106.6,258.74 L107.6,258.23 L108.6,257.71 L109.6,257.18 L110.6,256.64 L111.6,256.09 L112.6,255.53 L113.6,254.95 L114.6,254.36 L115.6,253.76 L116.6,253.14 L117.6,252.51 L118.6,251.87 L119.6,251.21 L120.6,250.54 L121.6,249.85 L122.6,249.15 L123.6,248.43 L124.6,247.69 L125.6,246.94 L126.6,246.18 L127.6,245.4 L128.6,244.61 L129.6,243.82 L130.6,243.02 L131.6,242.22 L132.6,241.42 L133.6,240.62 L134.6,239.82 L135.6,239.03 L136.6,238.24 L137.6,237.46 L138.6,236.69 L139.6,235.93 L140.6,235.18 L141.6,234.44 L142.6,233.72 L143.6,233.01 L144.6,232.32 L145.6,231.65 L146.6,231 L147.6,230.38 L148.6,229.77 L149.6,229.19 L150.6,228.63 L151.6,228.09 L152.6,227.58 L153.6,227.09 L154.6,226.62 L155.6,226.16 L156.6,225.74 L157.6,225.33 L158.6,224.95 L159.6,224.6 L160.6,224.27 L161.6,223.97 L162.6,223.71 L163.6,223.48 L164.6,223.29 L165.6,223.14 L166.6,223.04 L167.6,222.97 L168.6,222.95 L169.6,222.98 L170.6,223.06 L171.6,223.19 L172.6,223.36 L173.6,223.59 L174.6,223.86 L175.6,224.19 L176.6,224.57 L177.6,225 L178.6,225.49 L179.6,226.02 L180.6,226.6 L181.6,227.22 L182.6,227.89 L183.6,228.6 L184.6,229.34 L185.6,230.12 L186.6,230.94 L187.6,231.8 L188.6,232.69 L189.6,233.62 L190.6,234.59 L191.6,235.61 L192.6,236.67 L193.6,237.79 L194.6,238.97 L195.6,240.21 L196.6,241.52 L197.6,242.9 L198.6,244.34 L199.6,245.84 L200.6,247.4 L201.6,249 L202.6,250.63 L203.6,252.28 L204.6,253.95 L205.6,255.62 L206.6,257.29 L207.6,258.95 L208.6,260.6 L209.6,262.26 L210.6,263.91 L211.6,265.58 L212.6,267.25 L213.6,268.94 L214.6,270.66 L215.6,272.39 L216.6,274.13 L217.6,275.89 L218.6,277.66 L219.6,279.42 L220.6,281.17 L221.6,282.9 L222.6,284.61 L223.6,286.29 L224.6,287.94 L225.6,289.55 L226.6,291.11 L227.6,292.64 L228.6,294.13 L229.6,295.58 L230.6,296.99 L231.6,298.36 L232.6,299.7 L233.6,301.01 L234.6,302.29 L235.6,303.55 L236.6,304.78 L237.6,306.01 L238.6,307.22 L239.6,308.43 L240.6,309.64 L241.6,310.85 L242.6,312.07 L243.6,313.3 L244.6,314.54 L245.6,315.79 L246.6,317.05 L247.6,318.32 L248.6,319.58 L249.6,320.82 L250.6,322.04 L251.6,323.22 L252.6,324.36 L253.6,325.43 L254.6,326.45 L255.6,327.4 L256.6,328.29 L257.6,329.12 L258.6,329.89 L259.6,330.61 L260.6,331.28 L261.6,331.9 L262.6,332.49 L263.6,333.03 L264.6,333.54 L265.6,334.02 L266.6,334.47 L267.6,334.88 L268.6,335.27 L269.6,335.63 L270.6,335.97 L271.6,336.29 L272.6,336.58 L273.6,336.85 L274.6,337.09 L275.6,337.31 L276.6,337.51 L277.6,337.67 L278.6,337.81 L279.6,337.92 L280.6,338.01 L281.6,338.07 L282.6,338.1 L283.6,338.11 L284.6,338.1 L285.6,338.06 L286.6,338.01 L287.6,337.93 L288.6,337.84 L289.6,337.74 L290.6,337.62 L291.6,337.49 L292.6,337.35 L293.6,337.21" fill="none" stroke="#70AD47" stroke-width="2.1" stroke-linejoin="round" stroke-linecap="round"/>
<path d="M54.6,328.9 L55.6,328.99 L56.6,329.08 L57.6,329.17 L58.6,329.26 L59.6,329.34 L60.6,329.42 L61.6,329.5 L62.6,329.58 L63.6,329.65 L64.6,329.71 L65.6,329.77 L66.6,329.81 L67.6,329.85 L68.6,329.87 L69.6,329.87 L70.6,329.87 L71.6,329.84 L72.6,329.8 L73.6,329.75 L74.6,329.68 L75.6,329.59 L76.6,329.49 L77.6,329.38 L78.6,329.25 L79.6,329.11 L80.6,328.95 L81.6,328.78 L82.6,328.59 L83.6,328.39 L84.6,328.17 L85.6,327.94 L86.6,327.7 L87.6,327.43 L88.6,327.16 L89.6,326.87 L90.6,326.56 L91.6,326.24 L92.6,325.91 L93.6,325.56 L94.6,325.2 L95.6,324.83 L96.6,324.44 L97.6,324.05 L98.6,323.65 L99.6,323.24 L100.6,322.83 L101.6,322.41 L102.6,321.99 L103.6,321.56 L104.6,321.14 L105.6,320.71 L106.6,320.28 L107.6,319.85 L108.6,319.41 L109.6,318.98 L110.6,318.54 L111.6,318.11 L112.6,317.67 L113.6,317.23 L114.6,316.8 L115.6,316.36 L116.6,315.91 L117.6,315.47 L118.6,315.02 L119.6,314.56 L120.6,314.09 L121.6,313.61 L122.6,313.13 L123.6,312.63 L124.6,312.11 L125.6,311.59 L126.6,311.06 L127.6,310.52 L128.6,309.97 L129.6,309.42 L130.6,308.87 L131.6,308.32 L132.6,307.77 L133.6,307.24 L134.6,306.71 L135.6,306.19 L136.6,305.68 L137.6,305.17 L138.6,304.67 L139.6,304.17 L140.6,303.68 L141.6,303.19 L142.6,302.69 L143.6,302.19 L144.6,301.7 L145.6,301.2 L146.6,300.7 L147.6,300.2 L148.6,299.7 L149.6,299.2 L150.6,298.72 L151.6,298.25 L152.6,297.79 L153.6,297.35 L154.6,296.94 L155.6,296.55 L156.6,296.2 L157.6,295.87 L158.6,295.58 L159.6,295.32 L160.6,295.08 L161.6,294.87 L162.6,294.69 L163.6,294.54 L164.6,294.41 L165.6,294.3 L166.6,294.23 L167.6,294.18 L168.6,294.16 L169.6,294.16 L170.6,294.2 L171.6,294.26 L172.6,294.35 L173.6,294.47 L174.6,294.62 L175.6,294.79 L176.6,294.99 L177.6,295.21 L178.6,295.46 L179.6,295.75 L180.6,296.07 L181.6,296.42 L182.6,296.82 L183.6,297.26 L184.6,297.73 L185.6,298.25 L186.6,298.8 L187.6,299.37 L188.6,299.96 L189.6,300.57 L190.6,301.19 L191.6,301.81 L192.6,302.45 L193.6,303.09 L194.6,303.74 L195.6,304.42 L196.6,305.12 L197.6,305.86 L198.6,306.64 L199.6,307.45 L200.6,308.31 L201.6,309.2 L202.6,310.13 L203.6,311.09 L204.6,312.08 L205.6,313.09 L206.6,314.11 L207.6,315.14 L208.6,316.18 L209.6,317.24 L210.6,318.31 L211.6,319.4 L212.6,320.51 L213.6,321.63 L214.6,322.78 L215.6,323.95 L216.6,325.13 L217.6,326.32 L218.6,327.52 L219.6,328.73 L220.6,329.93 L221.6,331.11 L222.6,332.29 L223.6,333.45 L224.6,334.58 L225.6,335.68 L226.6,336.76 L227.6,337.81 L228.6,338.83 L229.6,339.82 L230.6,340.78 L231.6,341.72 L232.6,342.64 L233.6,343.54 L234.6,344.43 L235.6,345.3 L236.6,346.17 L237.6,347.03 L238.6,347.89 L239.6,348.74 L240.6,349.58 L241.6,350.42 L242.6,351.26 L243.6,352.08 L244.6,352.9 L245.6,353.7 L246.6,354.49 L247.6,355.26 L248.6,356 L249.6,356.71 L250.6,357.4 L251.6,358.06 L252.6,358.69 L253.6,359.29 L254.6,359.85 L255.6,360.39 L256.6,360.89 L257.6,361.36 L258.6,361.81 L259.6,362.22 L260.6,362.61 L261.6,362.96 L262.6,363.29 L263.6,363.59 L264.6,363.86 L265.6,364.11 L266.6,364.33 L267.6,364.53 L268.6,364.7 L269.6,364.86 L270.6,364.99 L271.6,365.1 L272.6,365.2 L273.6,365.27 L274.6,365.33 L275.6,365.37 L276.6,365.4 L277.6,365.4 L278.6,365.39 L279.6,365.36 L280.6,365.32 L281.6,365.26 L282.6,365.19 L283.6,365.1 L284.6,365 L285.6,364.89 L286.6,364.76 L287.6,364.63 L288.6,364.49 L289.6,364.34 L290.6,364.19 L291.6,364.03 L292.6,363.87 L293.6,363.71" fill="none" stroke="#ED7D31" stroke-width="2.1" stroke-linejoin="round" stroke-linecap="round"/>
<path d="M54.6,370 L55.6,370.03 L56.6,370.07 L57.6,370.1 L58.6,370.13 L59.6,370.16 L60.6,370.19 L61.6,370.22 L62.6,370.25 L63.6,370.27 L64.6,370.3 L65.6,370.32 L66.6,370.33 L67.6,370.34 L68.6,370.35 L69.6,370.34 L70.6,370.33 L71.6,370.31 L72.6,370.28 L73.6,370.24 L74.6,370.19 L75.6,370.13 L76.6,370.06 L77.6,369.97 L78.6,369.87 L79.6,369.76 L80.6,369.64 L81.6,369.5 L82.6,369.36 L83.6,369.2 L84.6,369.03 L85.6,368.84 L86.6,368.65 L87.6,368.45 L88.6,368.24 L89.6,368.03 L90.6,367.8 L91.6,367.57 L92.6,367.33 L93.6,367.09 L94.6,366.84 L95.6,366.58 L96.6,366.32 L97.6,366.06 L98.6,365.79 L99.6,365.52 L100.6,365.24 L101.6,364.97 L102.6,364.68 L103.6,364.4 L104.6,364.12 L105.6,363.83 L106.6,363.54 L107.6,363.25 L108.6,362.96 L109.6,362.66 L110.6,362.37 L111.6,362.07 L112.6,361.78 L113.6,361.48 L114.6,361.18 L115.6,360.88 L116.6,360.58 L117.6,360.27 L118.6,359.97 L119.6,359.66 L120.6,359.35 L121.6,359.03 L122.6,358.71 L123.6,358.39 L124.6,358.06 L125.6,357.73 L126.6,357.4 L127.6,357.06 L128.6,356.72 L129.6,356.39 L130.6,356.05 L131.6,355.72 L132.6,355.39 L133.6,355.07 L134.6,354.76 L135.6,354.46 L136.6,354.16 L137.6,353.87 L138.6,353.59 L139.6,353.32 L140.6,353.05 L141.6,352.78 L142.6,352.52 L143.6,352.26 L144.6,352 L145.6,351.74 L146.6,351.49 L147.6,351.24 L148.6,351 L149.6,350.76 L150.6,350.53 L151.6,350.31 L152.6,350.09 L153.6,349.88 L154.6,349.68 L155.6,349.48 L156.6,349.3 L157.6,349.12 L158.6,348.95 L159.6,348.79 L160.6,348.64 L161.6,348.5 L162.6,348.37 L163.6,348.26 L164.6,348.17 L165.6,348.09 L166.6,348.03 L167.6,347.99 L168.6,347.97 L169.6,347.97 L170.6,348 L171.6,348.04 L172.6,348.1 L173.6,348.19 L174.6,348.29 L175.6,348.42 L176.6,348.57 L177.6,348.74 L178.6,348.93 L179.6,349.14 L180.6,349.37 L181.6,349.63 L182.6,349.91 L183.6,350.22 L184.6,350.55 L185.6,350.9 L186.6,351.28 L187.6,351.68 L188.6,352.11 L189.6,352.55 L190.6,353.01 L191.6,353.49 L192.6,353.98 L193.6,354.49 L194.6,355 L195.6,355.52 L196.6,356.05 L197.6,356.58 L198.6,357.11 L199.6,357.66 L200.6,358.2 L201.6,358.75 L202.6,359.3 L203.6,359.86 L204.6,360.42 L205.6,360.98 L206.6,361.54 L207.6,362.11 L208.6,362.66 L209.6,363.22 L210.6,363.77 L211.6,364.31 L212.6,364.85 L213.6,365.38 L214.6,365.9 L215.6,366.41 L216.6,366.92 L217.6,367.42 L218.6,367.91 L219.6,368.39 L220.6,368.87 L221.6,369.35 L222.6,369.81 L223.6,370.27 L224.6,370.73 L225.6,371.17 L226.6,371.61 L227.6,372.04 L228.6,372.46 L229.6,372.86 L230.6,373.26 L231.6,373.66 L232.6,374.04 L233.6,374.41 L234.6,374.79 L235.6,375.15 L236.6,375.52 L237.6,375.89 L238.6,376.26 L239.6,376.63 L240.6,377.01 L241.6,377.4 L242.6,377.78 L243.6,378.17 L244.6,378.57 L245.6,378.96 L246.6,379.34 L247.6,379.72 L248.6,380.09 L249.6,380.45 L250.6,380.79 L251.6,381.13 L252.6,381.44 L253.6,381.74 L254.6,382.02 L255.6,382.29 L256.6,382.54 L257.6,382.78 L258.6,383 L259.6,383.21 L260.6,383.4 L261.6,383.58 L262.6,383.74 L263.6,383.89 L264.6,384.03 L265.6,384.15 L266.6,384.25 L267.6,384.34 L268.6,384.42 L269.6,384.49 L270.6,384.54 L271.6,384.58 L272.6,384.61 L273.6,384.62 L274.6,384.63 L275.6,384.61 L276.6,384.59 L277.6,384.56 L278.6,384.52 L279.6,384.46 L280.6,384.39 L281.6,384.32 L282.6,384.24 L283.6,384.14 L284.6,384.04 L285.6,383.93 L286.6,383.82 L287.6,383.7 L288.6,383.57 L289.6,383.44 L290.6,383.31 L291.6,383.17 L292.6,383.03 L293.6,382.89" fill="none" stroke="#7030A0" stroke-width="2.1" stroke-linejoin="round" stroke-linecap="round"/>
<path d="M54.6,386.6 L55.6,386.64 L56.6,386.67 L57.6,386.71 L58.6,386.74 L59.6,386.77 L60.6,386.8 L61.6,386.83 L62.6,386.86 L63.6,386.88 L64.6,386.89 L65.6,386.9 L66.6,386.91 L67.6,386.9 L68.6,386.89 L69.6,386.88 L70.6,386.86 L71.6,386.83 L72.6,386.8 L73.6,386.76 L74.6,386.71 L75.6,386.66 L76.6,386.61 L77.6,386.55 L78.6,386.49 L79.6,386.42 L80.6,386.35 L81.6,386.27 L82.6,386.19 L83.6,386.11 L84.6,386.02 L85.6,385.92 L86.6,385.82 L87.6,385.71 L88.6,385.59 L89.6,385.47 L90.6,385.34 L91.6,385.2 L92.6,385.06 L93.6,384.9 L94.6,384.74 L95.6,384.57 L96.6,384.39 L97.6,384.21 L98.6,384.02 L99.6,383.82 L100.6,383.61 L101.6,383.41 L102.6,383.2 L103.6,382.98 L104.6,382.77 L105.6,382.55 L106.6,382.33 L107.6,382.11 L108.6,381.89 L109.6,381.68 L110.6,381.46 L111.6,381.25 L112.6,381.04 L113.6,380.83 L114.6,380.62 L115.6,380.41 L116.6,380.2 L117.6,380 L118.6,379.79 L119.6,379.58 L120.6,379.38 L121.6,379.17 L122.6,378.96 L123.6,378.76 L124.6,378.56 L125.6,378.36 L126.6,378.16 L127.6,377.96 L128.6,377.76 L129.6,377.57 L130.6,377.38 L131.6,377.2 L132.6,377.02 L133.6,376.84 L134.6,376.67 L135.6,376.5 L136.6,376.33 L137.6,376.17 L138.6,376.02 L139.6,375.87 L140.6,375.72 L141.6,375.58 L142.6,375.45 L143.6,375.32 L144.6,375.2 L145.6,375.08 L146.6,374.97 L147.6,374.87 L148.6,374.76 L149.6,374.66 L150.6,374.57 L151.6,374.48 L152.6,374.39 L153.6,374.31 L154.6,374.23 L155.6,374.15 L156.6,374.07 L157.6,374 L158.6,373.94 L159.6,373.87 L160.6,373.81 L161.6,373.76 L162.6,373.71 L163.6,373.67 L164.6,373.64 L165.6,373.61 L166.6,373.59 L167.6,373.58 L168.6,373.58 L169.6,373.59 L170.6,373.61 L171.6,373.64 L172.6,373.69 L173.6,373.74 L174.6,373.81 L175.6,373.89 L176.6,373.99 L177.6,374.09 L178.6,374.21 L179.6,374.34 L180.6,374.48 L181.6,374.64 L182.6,374.8 L183.6,374.98 L184.6,375.17 L185.6,375.37 L186.6,375.58 L187.6,375.8 L188.6,376.03 L189.6,376.27 L190.6,376.51 L191.6,376.77 L192.6,377.03 L193.6,377.3 L194.6,377.58 L195.6,377.85 L196.6,378.13 L197.6,378.41 L198.6,378.7 L199.6,378.99 L200.6,379.28 L201.6,379.57 L202.6,379.86 L203.6,380.16 L204.6,380.46 L205.6,380.76 L206.6,381.06 L207.6,381.36 L208.6,381.66 L209.6,381.96 L210.6,382.26 L211.6,382.56 L212.6,382.86 L213.6,383.16 L214.6,383.45 L215.6,383.75 L216.6,384.04 L217.6,384.33 L218.6,384.62 L219.6,384.91 L220.6,385.19 L221.6,385.48 L222.6,385.76 L223.6,386.04 L224.6,386.32 L225.6,386.59 L226.6,386.86 L227.6,387.13 L228.6,387.39 L229.6,387.64 L230.6,387.9 L231.6,388.14 L232.6,388.39 L233.6,388.63 L234.6,388.86 L235.6,389.09 L236.6,389.32 L237.6,389.55 L238.6,389.77 L239.6,389.99 L240.6,390.2 L241.6,390.42 L242.6,390.63 L243.6,390.84 L244.6,391.04 L245.6,391.24 L246.6,391.44 L247.6,391.63 L248.6,391.82 L249.6,392 L250.6,392.18 L251.6,392.35 L252.6,392.52 L253.6,392.68 L254.6,392.84 L255.6,392.99 L256.6,393.13 L257.6,393.26 L258.6,393.39 L259.6,393.51 L260.6,393.61 L261.6,393.71 L262.6,393.8 L263.6,393.87 L264.6,393.94 L265.6,393.99 L266.6,394.04 L267.6,394.08 L268.6,394.11 L269.6,394.13 L270.6,394.14 L271.6,394.15 L272.6,394.14 L273.6,394.14 L274.6,394.12 L275.6,394.1 L276.6,394.07 L277.6,394.03 L278.6,393.99 L279.6,393.94 L280.6,393.89 L281.6,393.83 L282.6,393.76 L283.6,393.69 L284.6,393.61 L285.6,393.53 L286.6,393.44 L287.6,393.35 L288.6,393.26 L289.6,393.17 L290.6,393.07 L291.6,392.97 L292.6,392.87 L293.6,392.77" fill="none" stroke="#385723" stroke-width="2.1" stroke-linejoin="round" stroke-linecap="round"/>
<path d="M54.6,394.1 L55.6,394.09 L56.6,394.07 L57.6,394.06 L58.6,394.05 L59.6,394.03 L60.6,394.02 L61.6,394 L62.6,393.98 L63.6,393.96 L64.6,393.94 L65.6,393.91 L66.6,393.89 L67.6,393.85 L68.6,393.82 L69.6,393.78 L70.6,393.73 L71.6,393.68 L72.6,393.63 L73.6,393.57 L74.6,393.51 L75.6,393.44 L76.6,393.37 L77.6,393.3 L78.6,393.22 L79.6,393.15 L80.6,393.06 L81.6,392.98 L82.6,392.9 L83.6,392.81 L84.6,392.73 L85.6,392.64 L86.6,392.56 L87.6,392.47 L88.6,392.39 L89.6,392.3 L90.6,392.22 L91.6,392.14 L92.6,392.06 L93.6,391.98 L94.6,391.91 L95.6,391.83 L96.6,391.76 L97.6,391.68 L98.6,391.61 L99.6,391.54 L100.6,391.47 L101.6,391.4 L102.6,391.33 L103.6,391.26 L104.6,391.19 L105.6,391.11 L106.6,391.04 L107.6,390.97 L108.6,390.9 L109.6,390.83 L110.6,390.76 L111.6,390.69 L112.6,390.61 L113.6,390.54 L114.6,390.46 L115.6,390.38 L116.6,390.31 L117.6,390.23 L118.6,390.15 L119.6,390.07 L120.6,389.99 L121.6,389.91 L122.6,389.82 L123.6,389.74 L124.6,389.66 L125.6,389.57 L126.6,389.48 L127.6,389.4 L128.6,389.31 L129.6,389.22 L130.6,389.13 L131.6,389.04 L132.6,388.95 L133.6,388.86 L134.6,388.77 L135.6,388.68 L136.6,388.59 L137.6,388.5 L138.6,388.41 L139.6,388.33 L140.6,388.24 L141.6,388.15 L142.6,388.06 L143.6,387.97 L144.6,387.88 L145.6,387.79 L146.6,387.69 L147.6,387.6 L148.6,387.51 L149.6,387.41 L150.6,387.32 L151.6,387.23 L152.6,387.14 L153.6,387.06 L154.6,386.97 L155.6,386.89 L156.6,386.81 L157.6,386.74 L158.6,386.67 L159.6,386.6 L160.6,386.54 L161.6,386.48 L162.6,386.43 L163.6,386.39 L164.6,386.35 L165.6,386.32 L166.6,386.29 L167.6,386.28 L168.6,386.27 L169.6,386.26 L170.6,386.27 L171.6,386.28 L172.6,386.3 L173.6,386.33 L174.6,386.36 L175.6,386.4 L176.6,386.44 L177.6,386.49 L178.6,386.55 L179.6,386.61 L180.6,386.68 L181.6,386.75 L182.6,386.82 L183.6,386.91 L184.6,386.99 L185.6,387.08 L186.6,387.17 L187.6,387.27 L188.6,387.37 L189.6,387.48 L190.6,387.59 L191.6,387.7 L192.6,387.82 L193.6,387.93 L194.6,388.06 L195.6,388.18 L196.6,388.31 L197.6,388.45 L198.6,388.58 L199.6,388.73 L200.6,388.87 L201.6,389.03 L202.6,389.19 L203.6,389.35 L204.6,389.52 L205.6,389.69 L206.6,389.87 L207.6,390.05 L208.6,390.24 L209.6,390.43 L210.6,390.63 L211.6,390.82 L212.6,391.02 L213.6,391.22 L214.6,391.42 L215.6,391.63 L216.6,391.83 L217.6,392.03 L218.6,392.23 L219.6,392.43 L220.6,392.63 L221.6,392.82 L222.6,393.01 L223.6,393.2 L224.6,393.39 L225.6,393.56 L226.6,393.74 L227.6,393.91 L228.6,394.07 L229.6,394.24 L230.6,394.39 L231.6,394.54 L232.6,394.69 L233.6,394.83 L234.6,394.97 L235.6,395.11 L236.6,395.24 L237.6,395.37 L238.6,395.5 L239.6,395.62 L240.6,395.73 L241.6,395.85 L242.6,395.96 L243.6,396.07 L244.6,396.17 L245.6,396.27 L246.6,396.37 L247.6,396.47 L248.6,396.56 L249.6,396.65 L250.6,396.74 L251.6,396.82 L252.6,396.9 L253.6,396.98 L254.6,397.05 L255.6,397.13 L256.6,397.19 L257.6,397.26 L258.6,397.32 L259.6,397.38 L260.6,397.43 L261.6,397.48 L262.6,397.53 L263.6,397.57 L264.6,397.61 L265.6,397.64 L266.6,397.67 L267.6,397.7 L268.6,397.72 L269.6,397.74 L270.6,397.75 L271.6,397.75 L272.6,397.76 L273.6,397.75 L274.6,397.75 L275.6,397.73 L276.6,397.71 L277.6,397.69 L278.6,397.67 L279.6,397.64 L280.6,397.6 L281.6,397.57 L282.6,397.53 L283.6,397.49 L284.6,397.45 L285.6,397.41 L286.6,397.36 L287.6,397.31 L288.6,397.27 L289.6,397.22 L290.6,397.17 L291.6,397.12 L292.6,397.08 L293.6,397.03" fill="none" stroke="#4472C4" stroke-width="2.1" stroke-linejoin="round" stroke-linecap="round"/>
<path d="M54.6,407 L55.6,406.98 L56.6,406.96 L57.6,406.94 L58.6,406.93 L59.6,406.91 L60.6,406.89 L61.6,406.87 L62.6,406.85 L63.6,406.83 L64.6,406.82 L65.6,406.8 L66.6,406.78 L67.6,406.76 L68.6,406.74 L69.6,406.72 L70.6,406.71 L71.6,406.69 L72.6,406.67 L73.6,406.65 L74.6,406.63 L75.6,406.61 L76.6,406.59 L77.6,406.58 L78.6,406.56 L79.6,406.54 L80.6,406.52 L81.6,406.5 L82.6,406.48 L83.6,406.46 L84.6,406.44 L85.6,406.42 L86.6,406.4 L87.6,406.39 L88.6,406.37 L89.6,406.35 L90.6,406.33 L91.6,406.31 L92.6,406.29 L93.6,406.26 L94.6,406.24 L95.6,406.22 L96.6,406.2 L97.6,406.18 L98.6,406.16 L99.6,406.13 L100.6,406.11 L101.6,406.09 L102.6,406.06 L103.6,406.04 L104.6,406.02 L105.6,405.99 L106.6,405.97 L107.6,405.95 L108.6,405.92 L109.6,405.9 L110.6,405.88 L111.6,405.85 L112.6,405.83 L113.6,405.81 L114.6,405.79 L115.6,405.76 L116.6,405.74 L117.6,405.72 L118.6,405.7 L119.6,405.68 L120.6,405.66 L121.6,405.64 L122.6,405.62 L123.6,405.6 L124.6,405.59 L125.6,405.57 L126.6,405.55 L127.6,405.54 L128.6,405.52 L129.6,405.51 L130.6,405.5 L131.6,405.48 L132.6,405.47 L133.6,405.46 L134.6,405.45 L135.6,405.44 L136.6,405.43 L137.6,405.42 L138.6,405.41 L139.6,405.4 L140.6,405.39 L141.6,405.38 L142.6,405.37 L143.6,405.36 L144.6,405.36 L145.6,405.35 L146.6,405.34 L147.6,405.34 L148.6,405.33 L149.6,405.33 L150.6,405.32 L151.6,405.32 L152.6,405.31 L153.6,405.31 L154.6,405.3 L155.6,405.3 L156.6,405.3 L157.6,405.29 L158.6,405.29 L159.6,405.29 L160.6,405.29 L161.6,405.29 L162.6,405.29 L163.6,405.29 L164.6,405.29 L165.6,405.29 L166.6,405.3 L167.6,405.3 L168.6,405.3 L169.6,405.31 L170.6,405.31 L171.6,405.32 L172.6,405.32 L173.6,405.33 L174.6,405.34 L175.6,405.35 L176.6,405.36 L177.6,405.37 L178.6,405.38 L179.6,405.39 L180.6,405.4 L181.6,405.42 L182.6,405.43 L183.6,405.45 L184.6,405.46 L185.6,405.48 L186.6,405.5 L187.6,405.52 L188.6,405.54 L189.6,405.56 L190.6,405.58 L191.6,405.6 L192.6,405.62 L193.6,405.64 L194.6,405.67 L195.6,405.69 L196.6,405.72 L197.6,405.74 L198.6,405.77 L199.6,405.8 L200.6,405.83 L201.6,405.86 L202.6,405.89 L203.6,405.92 L204.6,405.95 L205.6,405.98 L206.6,406.02 L207.6,406.06 L208.6,406.09 L209.6,406.13 L210.6,406.17 L211.6,406.21 L212.6,406.25 L213.6,406.29 L214.6,406.33 L215.6,406.37 L216.6,406.41 L217.6,406.45 L218.6,406.49 L219.6,406.53 L220.6,406.57 L221.6,406.61 L222.6,406.65 L223.6,406.68 L224.6,406.72 L225.6,406.75 L226.6,406.79 L227.6,406.82 L228.6,406.85 L229.6,406.88 L230.6,406.91 L231.6,406.94 L232.6,406.97 L233.6,407 L234.6,407.03 L235.6,407.06 L236.6,407.09 L237.6,407.12 L238.6,407.15 L239.6,407.17 L240.6,407.2 L241.6,407.23 L242.6,407.25 L243.6,407.28 L244.6,407.3 L245.6,407.33 L246.6,407.35 L247.6,407.37 L248.6,407.39 L249.6,407.41 L250.6,407.43 L251.6,407.44 L252.6,407.45 L253.6,407.47 L254.6,407.47 L255.6,407.48 L256.6,407.49 L257.6,407.49 L258.6,407.49 L259.6,407.49 L260.6,407.48 L261.6,407.48 L262.6,407.47 L263.6,407.45 L264.6,407.44 L265.6,407.42 L266.6,407.4 L267.6,407.38 L268.6,407.36 L269.6,407.33 L270.6,407.3 L271.6,407.27 L272.6,407.24 L273.6,407.21 L274.6,407.18 L275.6,407.14 L276.6,407.11 L277.6,407.07 L278.6,407.03 L279.6,406.99 L280.6,406.96 L281.6,406.92 L282.6,406.88 L283.6,406.84 L284.6,406.8 L285.6,406.75 L286.6,406.71 L287.6,406.67 L288.6,406.63 L289.6,406.59 L290.6,406.55 L291.6,406.51 L292.6,406.47 L293.6,406.43" fill="none" stroke="#000000" stroke-width="2.1" stroke-linejoin="round" stroke-linecap="round"/>
<line x1="249.6" y1="212.1" x2="264.2" y2="212.1" stroke="#70AD47" stroke-width="2.1" />
<text x="265" y="218.1" font-size="16.8" text-anchor="start" fill="#000" font-family="'Liberation Sans', sans-serif" font-weight="normal" >1.00%</text>
<line x1="249.6" y1="231.9" x2="264.2" y2="231.9" stroke="#ED7D31" stroke-width="2.1" />
<text x="265" y="237.9" font-size="16.8" text-anchor="start" fill="#000" font-family="'Liberation Sans', sans-serif" font-weight="normal" >0.50%</text>
<line x1="249.6" y1="251.7" x2="264.2" y2="251.7" stroke="#7030A0" stroke-width="2.1" />
<text x="265" y="257.7" font-size="16.8" text-anchor="start" fill="#000" font-family="'Liberation Sans', sans-serif" font-weight="normal" >0.20%</text>
<line x1="249.6" y1="271.5" x2="264.2" y2="271.5" stroke="#385723" stroke-width="2.1" />
<text x="265" y="277.5" font-size="16.8" text-anchor="start" fill="#000" font-family="'Liberation Sans', sans-serif" font-weight="normal" >0.10%</text>
<line x1="249.6" y1="291.3" x2="264.2" y2="291.3" stroke="#4472C4" stroke-width="2.1" />
<text x="265" y="297.3" font-size="16.8" text-anchor="start" fill="#000" font-family="'Liberation Sans', sans-serif" font-weight="normal" >0.05%</text>
<line x1="249.6" y1="311.1" x2="264.2" y2="311.1" stroke="#000000" stroke-width="2.1" />
<text x="265" y="317.1" font-size="16.8" text-anchor="start" fill="#000" font-family="'Liberation Sans', sans-serif" font-weight="normal" >Blank</text>
<text x="335.9" y="220.8" font-size="18.5" text-anchor="start" fill="#000" font-family="'Liberation Serif', serif" font-weight="bold" letter-spacing="0.7">(d)</text>
<line x1="382.4" y1="213" x2="382.4" y2="449.3" stroke="#000" stroke-width="1.6" />
<line x1="378" y1="449.3" x2="382.4" y2="449.3" stroke="#000" stroke-width="1.6" />
<text x="368.2" y="454.5" font-size="16.3" text-anchor="end" fill="#000" font-family="'Liberation Sans', sans-serif" font-weight="normal" >0</text>
<line x1="378" y1="400.93" x2="382.4" y2="400.93" stroke="#000" stroke-width="1.6" />
<text x="368.2" y="406.12" font-size="16.3" text-anchor="end" fill="#000" font-family="'Liberation Sans', sans-serif" font-weight="normal" >0.1</text>
<line x1="378" y1="352.55" x2="382.4" y2="352.55" stroke="#000" stroke-width="1.6" />
<text x="368.2" y="357.75" font-size="16.3" text-anchor="end" fill="#000" font-family="'Liberation Sans', sans-serif" font-weight="normal" >0.2</text>
<line x1="378" y1="304.18" x2="382.4" y2="304.18" stroke="#000" stroke-width="1.6" />
<text x="368.2" y="309.38" font-size="16.3" text-anchor="end" fill="#000" font-family="'Liberation Sans', sans-serif" font-weight="normal" >0.3</text>
<line x1="378" y1="255.8" x2="382.4" y2="255.8" stroke="#000" stroke-width="1.6" />
<text x="368.2" y="261" font-size="16.3" text-anchor="end" fill="#000" font-family="'Liberation Sans', sans-serif" font-weight="normal" >0.4</text>
<line x1="382.4" y1="449.3" x2="683.5" y2="449.3" stroke="#000" stroke-width="1.6" />
<line x1="382.4" y1="449.3" x2="382.4" y2="453.6" stroke="#000" stroke-width="1.6" />
<line x1="432.5" y1="449.3" x2="432.5" y2="453.6" stroke="#000" stroke-width="1.6" />
<line x1="482.6" y1="449.3" x2="482.6" y2="453.6" stroke="#000" stroke-width="1.6" />
<line x1="532.7" y1="449.3" x2="532.7" y2="453.6" stroke="#000" stroke-width="1.6" />
<line x1="582.8" y1="449.3" x2="582.8" y2="453.6" stroke="#000" stroke-width="1.6" />
<line x1="632.9" y1="449.3" x2="632.9" y2="453.6" stroke="#000" stroke-width="1.6" />
<line x1="683" y1="449.3" x2="683" y2="453.6" stroke="#000" stroke-width="1.6" />
<rect x="396.15" y="426.56" width="22.6" height="22.74" fill="#767171" stroke="#000" stroke-width="1.9"/>
<line x1="407.45" y1="425.6" x2="407.45" y2="427.53" stroke="#000" stroke-width="1.3" />
<line x1="405.45" y1="425.6" x2="409.45" y2="425.6" stroke="#000" stroke-width="1.3" />
<line x1="405.45" y1="427.53" x2="409.45" y2="427.53" stroke="#000" stroke-width="1.3" />
<text x="407.45" y="472.4" font-size="15.4" text-anchor="middle" fill="#000" font-family="'Liberation Sans', sans-serif" font-weight="normal" >Blank</text>
<rect x="446.25" y="407.89" width="22.6" height="41.41" fill="#767171" stroke="#000" stroke-width="1.9"/>
<line x1="457.55" y1="407.41" x2="457.55" y2="408.37" stroke="#000" stroke-width="1.3" />
<line x1="455.55" y1="407.41" x2="459.55" y2="407.41" stroke="#000" stroke-width="1.3" />
<line x1="455.55" y1="408.37" x2="459.55" y2="408.37" stroke="#000" stroke-width="1.3" />
<text x="457.55" y="472.4" font-size="15.4" text-anchor="middle" fill="#000" font-family="'Liberation Sans', sans-serif" font-weight="normal" >0.05%</text>
<rect x="496.35" y="394.49" width="22.6" height="54.81" fill="#767171" stroke="#000" stroke-width="1.9"/>
<line x1="507.65" y1="394.01" x2="507.65" y2="394.97" stroke="#000" stroke-width="1.3" />
<line x1="505.65" y1="394.01" x2="509.65" y2="394.01" stroke="#000" stroke-width="1.3" />
<line x1="505.65" y1="394.97" x2="509.65" y2="394.97" stroke="#000" stroke-width="1.3" />
<text x="507.65" y="472.4" font-size="15.4" text-anchor="middle" fill="#000" font-family="'Liberation Sans', sans-serif" font-weight="normal" >0.10%</text>
<rect x="546.45" y="368.18" width="22.6" height="81.12" fill="#767171" stroke="#000" stroke-width="1.9"/>
<line x1="557.75" y1="366.72" x2="557.75" y2="369.63" stroke="#000" stroke-width="1.3" />
<line x1="555.75" y1="366.72" x2="559.75" y2="366.72" stroke="#000" stroke-width="1.3" />
<line x1="555.75" y1="369.63" x2="559.75" y2="369.63" stroke="#000" stroke-width="1.3" />
<text x="557.75" y="472.4" font-size="15.4" text-anchor="middle" fill="#000" font-family="'Liberation Sans', sans-serif" font-weight="normal" >0.20%</text>
<rect x="596.55" y="310.61" width="22.6" height="138.69" fill="#767171" stroke="#000" stroke-width="1.9"/>
<line x1="607.85" y1="310.13" x2="607.85" y2="311.09" stroke="#000" stroke-width="1.3" />
<line x1="605.85" y1="310.13" x2="609.85" y2="310.13" stroke="#000" stroke-width="1.3" />
<line x1="605.85" y1="311.09" x2="609.85" y2="311.09" stroke="#000" stroke-width="1.3" />
<text x="607.85" y="472.4" font-size="15.4" text-anchor="middle" fill="#000" font-family="'Liberation Sans', sans-serif" font-weight="normal" >0.50%</text>
<rect x="646.65" y="229.29" width="22.6" height="220.01" fill="#767171" stroke="#000" stroke-width="1.9"/>
<line x1="657.95" y1="223" x2="657.95" y2="235.58" stroke="#000" stroke-width="1.3" />
<line x1="655.95" y1="223" x2="659.95" y2="223" stroke="#000" stroke-width="1.3" />
<line x1="655.95" y1="235.58" x2="659.95" y2="235.58" stroke="#000" stroke-width="1.3" />
<text x="657.95" y="472.4" font-size="15.4" text-anchor="middle" fill="#000" font-family="'Liberation Sans', sans-serif" font-weight="normal" >1.00%</text>
<text x="0" y="0" font-size="17.2" text-anchor="middle" fill="#000" font-family="'Liberation Sans', sans-serif" font-weight="normal" transform="translate(339.4,331.4) rotate(-90)">OD650nm</text>
<defs>
<clipPath id="pc"><rect x="386.6" y="227.8" width="255.2" height="77.2" rx="10.5" ry="10.5"/></clipPath>
<linearGradient id="bg" x1="0" y1="0" x2="1" y2="0"><stop offset="0" stop-color="#cbcdc9"/><stop offset="0.2" stop-color="#d2d3cf"/><stop offset="0.45" stop-color="#cfd0cc"/><stop offset="0.66" stop-color="#c7c7c4"/><stop offset="0.85" stop-color="#cbcbc9"/><stop offset="1" stop-color="#d2cfce"/></linearGradient>
<linearGradient id="bgv" x1="0" y1="0" x2="0" y2="1"><stop offset="0" stop-color="#fff" stop-opacity="0.10"/><stop offset="1" stop-color="#000" stop-opacity="0.03"/></linearGradient>
<linearGradient id="tv" x1="0" y1="0" x2="0" y2="1"><stop offset="0" stop-color="#fff" stop-opacity="0.28"/><stop offset="0.35" stop-color="#fff" stop-opacity="0.06"/><stop offset="1" stop-color="#fff" stop-opacity="0"/></linearGradient>
<linearGradient id="tg0" x1="0" y1="0" x2="1" y2="0"><stop offset="0" stop-color="#000" stop-opacity="0.06"/><stop offset="0.3" stop-color="#000" stop-opacity="0.0"/><stop offset="0.62" stop-color="#fff" stop-opacity="0.16"/><stop offset="0.8" stop-color="#fff" stop-opacity="0.0"/><stop offset="1" stop-color="#000" stop-opacity="0.05"/></linearGradient>
<linearGradient id="tg1" x1="0" y1="0" x2="1" y2="0"><stop offset="0" stop-color="#000" stop-opacity="0.06"/><stop offset="0.3" stop-color="#000" stop-opacity="0.0"/><stop offset="0.62" stop-color="#fff" stop-opacity="0.16"/><stop offset="0.8" stop-color="#fff" stop-opacity="0.0"/><stop offset="1" stop-color="#000" stop-opacity="0.05"/></linearGradient>
<linearGradient id="tg2" x1="0" y1="0" x2="1" y2="0"><stop offset="0" stop-color="#000" stop-opacity="0.06"/><stop offset="0.3" stop-color="#000" stop-opacity="0.0"/><stop offset="0.62" stop-color="#fff" stop-opacity="0.16"/><stop offset="0.8" stop-color="#fff" stop-opacity="0.0"/><stop offset="1" stop-color="#000" stop-opacity="0.05"/></linearGradient>
<linearGradient id="tg3" x1="0" y1="0" x2="1" y2="0"><stop offset="0" stop-color="#000" stop-opacity="0.06"/><stop offset="0.3" stop-color="#000" stop-opacity="0.0"/><stop offset="0.62" stop-color="#fff" stop-opacity="0.16"/><stop offset="0.8" stop-color="#fff" stop-opacity="0.0"/><stop offset="1" stop-color="#000" stop-opacity="0.05"/></linearGradient>
<linearGradient id="tg4" x1="0" y1="0" x2="1" y2="0"><stop offset="0" stop-color="#000" stop-opacity="0.06"/><stop offset="0.3" stop-color="#000" stop-opacity="0.0"/><stop offset="0.62" stop-color="#fff" stop-opacity="0.16"/><stop offset="0.8" stop-color="#fff" stop-opacity="0.0"/><stop offset="1" stop-color="#000" stop-opacity="0.05"/></linearGradient>
<linearGradient id="tg5" x1="0" y1="0" x2="1" y2="0"><stop offset="0" stop-color="#000" stop-opacity="0.06"/><stop offset="0.3" stop-color="#000" stop-opacity="0.0"/><stop offset="0.62" stop-color="#fff" stop-opacity="0.16"/><stop offset="0.8" stop-color="#fff" stop-opacity="0.0"/><stop offset="1" stop-color="#000" stop-opacity="0.05"/></linearGradient>
</defs>
<g clip-path="url(#pc)">
<rect x="386.6" y="227.8" width="255.2" height="77.2" fill="url(#bg)"/>
<rect x="386.6" y="227.8" width="255.2" height="77.2" fill="url(#bgv)"/>
<path d="M399.8,306.5 C399.83,306 399.77,307.13 400,303.5 C400.23,299.87 400.85,290.67 401.2,284.7 C401.55,278.73 401.73,273.38 402.1,267.7 C402.47,262.02 402.98,254.87 403.4,250.6 C403.82,246.33 404.15,244.47 404.6,242.1 C405.05,239.73 405.85,237.35 406.1,236.4 A4.9,4.9 0 0 1 415.9,236.4 L415.9,236.4 C416.15,237.35 416.92,239.73 417.4,242.1 C417.88,244.47 418.23,246.33 418.8,250.6 C419.37,254.87 420.12,262.02 420.8,267.7 C421.48,273.38 422.27,278.73 422.9,284.7 C423.53,290.67 424.27,299.87 424.6,303.5 C424.93,307.13 424.85,306 424.9,306.5 Z" fill="#d7ded8"/>
<path d="M399.8,306.5 C399.83,306 399.77,307.13 400,303.5 C400.23,299.87 400.85,290.67 401.2,284.7 C401.55,278.73 401.73,273.38 402.1,267.7 C402.47,262.02 402.98,254.87 403.4,250.6 C403.82,246.33 404.15,244.47 404.6,242.1 C405.05,239.73 405.85,237.35 406.1,236.4 A4.9,4.9 0 0 1 415.9,236.4 L415.9,236.4 C416.15,237.35 416.92,239.73 417.4,242.1 C417.88,244.47 418.23,246.33 418.8,250.6 C419.37,254.87 420.12,262.02 420.8,267.7 C421.48,273.38 422.27,278.73 422.9,284.7 C423.53,290.67 424.27,299.87 424.6,303.5 C424.93,307.13 424.85,306 424.9,306.5 Z" fill="url(#tg0)" stroke="#5a6a60" stroke-opacity="0.28" stroke-width="0.9"/>
<path d="M399.8,306.5 C399.83,306 399.77,307.13 400,303.5 C400.23,299.87 400.85,290.67 401.2,284.7 C401.55,278.73 401.73,273.38 402.1,267.7 C402.47,262.02 402.98,254.87 403.4,250.6 C403.82,246.33 404.15,244.47 404.6,242.1 C405.05,239.73 405.85,237.35 406.1,236.4 A4.9,4.9 0 0 1 415.9,236.4 L415.9,236.4 C416.15,237.35 416.92,239.73 417.4,242.1 C417.88,244.47 418.23,246.33 418.8,250.6 C419.37,254.87 420.12,262.02 420.8,267.7 C421.48,273.38 422.27,278.73 422.9,284.7 C423.53,290.67 424.27,299.87 424.6,303.5 C424.93,307.13 424.85,306 424.9,306.5 Z" fill="url(#tv)"/>
<ellipse cx="410.2" cy="233.3" rx="2.6" ry="1.2" fill="#ffffff" opacity="0.45"/>
<path d="M436,306.5 C436.03,306 435.93,307.13 436.2,303.5 C436.47,299.87 437.08,290.67 437.6,284.7 C438.12,278.73 438.73,273.38 439.3,267.7 C439.87,262.02 440.52,254.87 441,250.6 C441.48,246.33 441.77,244.45 442.2,242.1 C442.63,239.75 443.37,237.43 443.6,236.5 A5,5 0 0 1 453.6,236.5 L453.6,236.5 C453.83,237.43 454.55,239.75 455,242.1 C455.45,244.45 455.73,246.33 456.3,250.6 C456.87,254.87 457.77,262.02 458.4,267.7 C459.03,273.38 459.53,278.73 460.1,284.7 C460.67,290.67 461.48,299.87 461.8,303.5 C462.12,307.13 461.97,306 462,306.5 Z" fill="#cadfd4"/>
<path d="M436,306.5 C436.03,306 435.93,307.13 436.2,303.5 C436.47,299.87 437.08,290.67 437.6,284.7 C438.12,278.73 438.73,273.38 439.3,267.7 C439.87,262.02 440.52,254.87 441,250.6 C441.48,246.33 441.77,244.45 442.2,242.1 C442.63,239.75 443.37,237.43 443.6,236.5 A5,5 0 0 1 453.6,236.5 L453.6,236.5 C453.83,237.43 454.55,239.75 455,242.1 C455.45,244.45 455.73,246.33 456.3,250.6 C456.87,254.87 457.77,262.02 458.4,267.7 C459.03,273.38 459.53,278.73 460.1,284.7 C460.67,290.67 461.48,299.87 461.8,303.5 C462.12,307.13 461.97,306 462,306.5 Z" fill="url(#tg1)" stroke="#5a6a60" stroke-opacity="0.28" stroke-width="0.9"/>
<path d="M436,306.5 C436.03,306 435.93,307.13 436.2,303.5 C436.47,299.87 437.08,290.67 437.6,284.7 C438.12,278.73 438.73,273.38 439.3,267.7 C439.87,262.02 440.52,254.87 441,250.6 C441.48,246.33 441.77,244.45 442.2,242.1 C442.63,239.75 443.37,237.43 443.6,236.5 A5,5 0 0 1 453.6,236.5 L453.6,236.5 C453.83,237.43 454.55,239.75 455,242.1 C455.45,244.45 455.73,246.33 456.3,250.6 C456.87,254.87 457.77,262.02 458.4,267.7 C459.03,273.38 459.53,278.73 460.1,284.7 C460.67,290.67 461.48,299.87 461.8,303.5 C462.12,307.13 461.97,306 462,306.5 Z" fill="url(#tv)"/>
<ellipse cx="447.8" cy="233.3" rx="2.6" ry="1.2" fill="#ffffff" opacity="0.45"/>
<path d="M483.7,306.5 C483.73,306 483.58,307.13 483.9,303.5 C484.22,299.87 485.03,290.67 485.6,284.7 C486.17,278.73 486.65,273.38 487.3,267.7 C487.95,262.02 488.93,254.87 489.5,250.6 C490.07,246.33 490.22,244.4 490.7,242.1 C491.18,239.8 492.12,237.68 492.4,236.8 A5,5 0 0 1 502.4,236.8 L502.4,236.8 C502.62,237.68 503.28,239.8 503.7,242.1 C504.12,244.4 504.42,246.33 504.9,250.6 C505.38,254.87 506.12,262.02 506.6,267.7 C507.08,273.38 507.38,278.73 507.8,284.7 C508.22,290.67 508.85,299.87 509.1,303.5 C509.35,307.13 509.27,306 509.3,306.5 Z" fill="#bcdbcc"/>
<path d="M483.7,306.5 C483.73,306 483.58,307.13 483.9,303.5 C484.22,299.87 485.03,290.67 485.6,284.7 C486.17,278.73 486.65,273.38 487.3,267.7 C487.95,262.02 488.93,254.87 489.5,250.6 C490.07,246.33 490.22,244.4 490.7,242.1 C491.18,239.8 492.12,237.68 492.4,236.8 A5,5 0 0 1 502.4,236.8 L502.4,236.8 C502.62,237.68 503.28,239.8 503.7,242.1 C504.12,244.4 504.42,246.33 504.9,250.6 C505.38,254.87 506.12,262.02 506.6,267.7 C507.08,273.38 507.38,278.73 507.8,284.7 C508.22,290.67 508.85,299.87 509.1,303.5 C509.35,307.13 509.27,306 509.3,306.5 Z" fill="url(#tg2)" stroke="#5a6a60" stroke-opacity="0.28" stroke-width="0.9"/>
<path d="M483.7,306.5 C483.73,306 483.58,307.13 483.9,303.5 C484.22,299.87 485.03,290.67 485.6,284.7 C486.17,278.73 486.65,273.38 487.3,267.7 C487.95,262.02 488.93,254.87 489.5,250.6 C490.07,246.33 490.22,244.4 490.7,242.1 C491.18,239.8 492.12,237.68 492.4,236.8 A5,5 0 0 1 502.4,236.8 L502.4,236.8 C502.62,237.68 503.28,239.8 503.7,242.1 C504.12,244.4 504.42,246.33 504.9,250.6 C505.38,254.87 506.12,262.02 506.6,267.7 C507.08,273.38 507.38,278.73 507.8,284.7 C508.22,290.67 508.85,299.87 509.1,303.5 C509.35,307.13 509.27,306 509.3,306.5 Z" fill="url(#tv)"/>
<ellipse cx="496.6" cy="233.6" rx="2.6" ry="1.2" fill="#ffffff" opacity="0.45"/>
<path d="M522.6,306.5 C522.63,306 522.53,307.13 522.8,303.5 C523.07,299.87 523.68,290.67 524.2,284.7 C524.72,278.73 525.28,273.38 525.9,267.7 C526.52,262.02 527.33,254.87 527.9,250.6 C528.47,246.33 528.78,244.25 529.3,242.1 C529.82,239.95 530.72,238.43 531,237.7 A5,5 0 0 1 541,237.7 L541,237.7 C541.23,238.43 541.97,239.95 542.4,242.1 C542.83,244.25 543.03,246.33 543.6,250.6 C544.17,254.87 545.15,262.02 545.8,267.7 C546.45,273.38 546.98,278.73 547.5,284.7 C548.02,290.67 548.63,299.87 548.9,303.5 C549.17,307.13 549.07,306 549.1,306.5 Z" fill="#afd9c7"/>
<path d="M522.6,306.5 C522.63,306 522.53,307.13 522.8,303.5 C523.07,299.87 523.68,290.67 524.2,284.7 C524.72,278.73 525.28,273.38 525.9,267.7 C526.52,262.02 527.33,254.87 527.9,250.6 C528.47,246.33 528.78,244.25 529.3,242.1 C529.82,239.95 530.72,238.43 531,237.7 A5,5 0 0 1 541,237.7 L541,237.7 C541.23,238.43 541.97,239.95 542.4,242.1 C542.83,244.25 543.03,246.33 543.6,250.6 C544.17,254.87 545.15,262.02 545.8,267.7 C546.45,273.38 546.98,278.73 547.5,284.7 C548.02,290.67 548.63,299.87 548.9,303.5 C549.17,307.13 549.07,306 549.1,306.5 Z" fill="url(#tg3)" stroke="#5a6a60" stroke-opacity="0.28" stroke-width="0.9"/>
<path d="M522.6,306.5 C522.63,306 522.53,307.13 522.8,303.5 C523.07,299.87 523.68,290.67 524.2,284.7 C524.72,278.73 525.28,273.38 525.9,267.7 C526.52,262.02 527.33,254.87 527.9,250.6 C528.47,246.33 528.78,244.25 529.3,242.1 C529.82,239.95 530.72,238.43 531,237.7 A5,5 0 0 1 541,237.7 L541,237.7 C541.23,238.43 541.97,239.95 542.4,242.1 C542.83,244.25 543.03,246.33 543.6,250.6 C544.17,254.87 545.15,262.02 545.8,267.7 C546.45,273.38 546.98,278.73 547.5,284.7 C548.02,290.67 548.63,299.87 548.9,303.5 C549.17,307.13 549.07,306 549.1,306.5 Z" fill="url(#tv)"/>
<ellipse cx="535.2" cy="234.5" rx="2.6" ry="1.2" fill="#ffffff" opacity="0.45"/>
<path d="M564.8,306.5 C564.85,306 564.7,307.13 565.1,303.5 C565.5,299.87 566.48,290.67 567.2,284.7 C567.92,278.73 568.55,273.38 569.4,267.7 C570.25,262.02 571.45,254.87 572.3,250.6 C573.15,246.33 573.9,244.03 574.5,242.1 C575.1,240.17 575.67,239.52 575.9,239 A5.5,5.5 0 0 1 586.9,239 L586.9,239 C587.12,239.52 587.7,240.17 588.2,242.1 C588.7,244.03 589.33,246.33 589.9,250.6 C590.47,254.87 591.12,262.02 591.6,267.7 C592.08,273.38 592.52,278.73 592.8,284.7 C593.08,290.67 593.2,299.87 593.3,303.5 C593.4,307.13 593.38,306 593.4,306.5 Z" fill="#90d5bd"/>
<path d="M564.8,306.5 C564.85,306 564.7,307.13 565.1,303.5 C565.5,299.87 566.48,290.67 567.2,284.7 C567.92,278.73 568.55,273.38 569.4,267.7 C570.25,262.02 571.45,254.87 572.3,250.6 C573.15,246.33 573.9,244.03 574.5,242.1 C575.1,240.17 575.67,239.52 575.9,239 A5.5,5.5 0 0 1 586.9,239 L586.9,239 C587.12,239.52 587.7,240.17 588.2,242.1 C588.7,244.03 589.33,246.33 589.9,250.6 C590.47,254.87 591.12,262.02 591.6,267.7 C592.08,273.38 592.52,278.73 592.8,284.7 C593.08,290.67 593.2,299.87 593.3,303.5 C593.4,307.13 593.38,306 593.4,306.5 Z" fill="url(#tg4)" stroke="#5a6a60" stroke-opacity="0.28" stroke-width="0.9"/>
<path d="M564.8,306.5 C564.85,306 564.7,307.13 565.1,303.5 C565.5,299.87 566.48,290.67 567.2,284.7 C567.92,278.73 568.55,273.38 569.4,267.7 C570.25,262.02 571.45,254.87 572.3,250.6 C573.15,246.33 573.9,244.03 574.5,242.1 C575.1,240.17 575.67,239.52 575.9,239 A5.5,5.5 0 0 1 586.9,239 L586.9,239 C587.12,239.52 587.7,240.17 588.2,242.1 C588.7,244.03 589.33,246.33 589.9,250.6 C590.47,254.87 591.12,262.02 591.6,267.7 C592.08,273.38 592.52,278.73 592.8,284.7 C593.08,290.67 593.2,299.87 593.3,303.5 C593.4,307.13 593.38,306 593.4,306.5 Z" fill="url(#tv)"/>
<ellipse cx="580.6" cy="235.3" rx="2.6" ry="1.2" fill="#ffffff" opacity="0.45"/>
<path d="M605.5,306.5 C605.53,306 605.4,307.13 605.7,303.5 C606,299.87 606.82,290.67 607.3,284.7 C607.78,278.73 608.03,273.38 608.6,267.7 C609.17,262.02 610.12,254.87 610.7,250.6 C611.28,246.33 611.6,243.8 612.1,242.1 C612.6,240.4 613.43,240.68 613.7,240.4 A6,6 0 0 1 625.7,240.4 L625.7,240.4 C625.85,240.68 626.17,240.4 626.6,242.1 C627.03,243.8 627.73,246.33 628.3,250.6 C628.87,254.87 629.5,262.02 630,267.7 C630.5,273.38 630.88,278.73 631.3,284.7 C631.72,290.67 632.27,299.87 632.5,303.5 C632.73,307.13 632.67,306 632.7,306.5 Z" fill="#50c3a6"/>
<path d="M605.5,306.5 C605.53,306 605.4,307.13 605.7,303.5 C606,299.87 606.82,290.67 607.3,284.7 C607.78,278.73 608.03,273.38 608.6,267.7 C609.17,262.02 610.12,254.87 610.7,250.6 C611.28,246.33 611.6,243.8 612.1,242.1 C612.6,240.4 613.43,240.68 613.7,240.4 A6,6 0 0 1 625.7,240.4 L625.7,240.4 C625.85,240.68 626.17,240.4 626.6,242.1 C627.03,243.8 627.73,246.33 628.3,250.6 C628.87,254.87 629.5,262.02 630,267.7 C630.5,273.38 630.88,278.73 631.3,284.7 C631.72,290.67 632.27,299.87 632.5,303.5 C632.73,307.13 632.67,306 632.7,306.5 Z" fill="url(#tg5)" stroke="#5a6a60" stroke-opacity="0.28" stroke-width="0.9"/>
<path d="M605.5,306.5 C605.53,306 605.4,307.13 605.7,303.5 C606,299.87 606.82,290.67 607.3,284.7 C607.78,278.73 608.03,273.38 608.6,267.7 C609.17,262.02 610.12,254.87 610.7,250.6 C611.28,246.33 611.6,243.8 612.1,242.1 C612.6,240.4 613.43,240.68 613.7,240.4 A6,6 0 0 1 625.7,240.4 L625.7,240.4 C625.85,240.68 626.17,240.4 626.6,242.1 C627.03,243.8 627.73,246.33 628.3,250.6 C628.87,254.87 629.5,262.02 630,267.7 C630.5,273.38 630.88,278.73 631.3,284.7 C631.72,290.67 632.27,299.87 632.5,303.5 C632.73,307.13 632.67,306 632.7,306.5 Z" fill="url(#tv)"/>
<ellipse cx="618.9" cy="236.2" rx="2.6" ry="1.2" fill="#ffffff" opacity="0.45"/>
</g>
<text x="385.2" y="298.6" font-size="14.3" text-anchor="start" fill="#1a1a1a" font-family="'Liberation Sans', sans-serif" font-weight="normal" >Blank</text>
<text x="433.4" y="298.6" font-size="14.3" text-anchor="start" fill="#1a1a1a" font-family="'Liberation Sans', sans-serif" font-weight="normal" >0.05%</text>
<text x="479.6" y="298.6" font-size="14.3" text-anchor="start" fill="#1a1a1a" font-family="'Liberation Sans', sans-serif" font-weight="normal" >0.1%</text>
<text x="525.9" y="298.6" font-size="14.3" text-anchor="start" fill="#1a1a1a" font-family="'Liberation Sans', sans-serif" font-weight="normal" >0.2%</text>
<text x="570.8" y="298.6" font-size="14.3" text-anchor="start" fill="#1a1a1a" font-family="'Liberation Sans', sans-serif" font-weight="normal" >0.5%</text>
<text x="617" y="298.6" font-size="14.3" text-anchor="start" fill="#1a1a1a" font-family="'Liberation Sans', sans-serif" font-weight="normal" >1%</text>
</svg>
</body></html>
